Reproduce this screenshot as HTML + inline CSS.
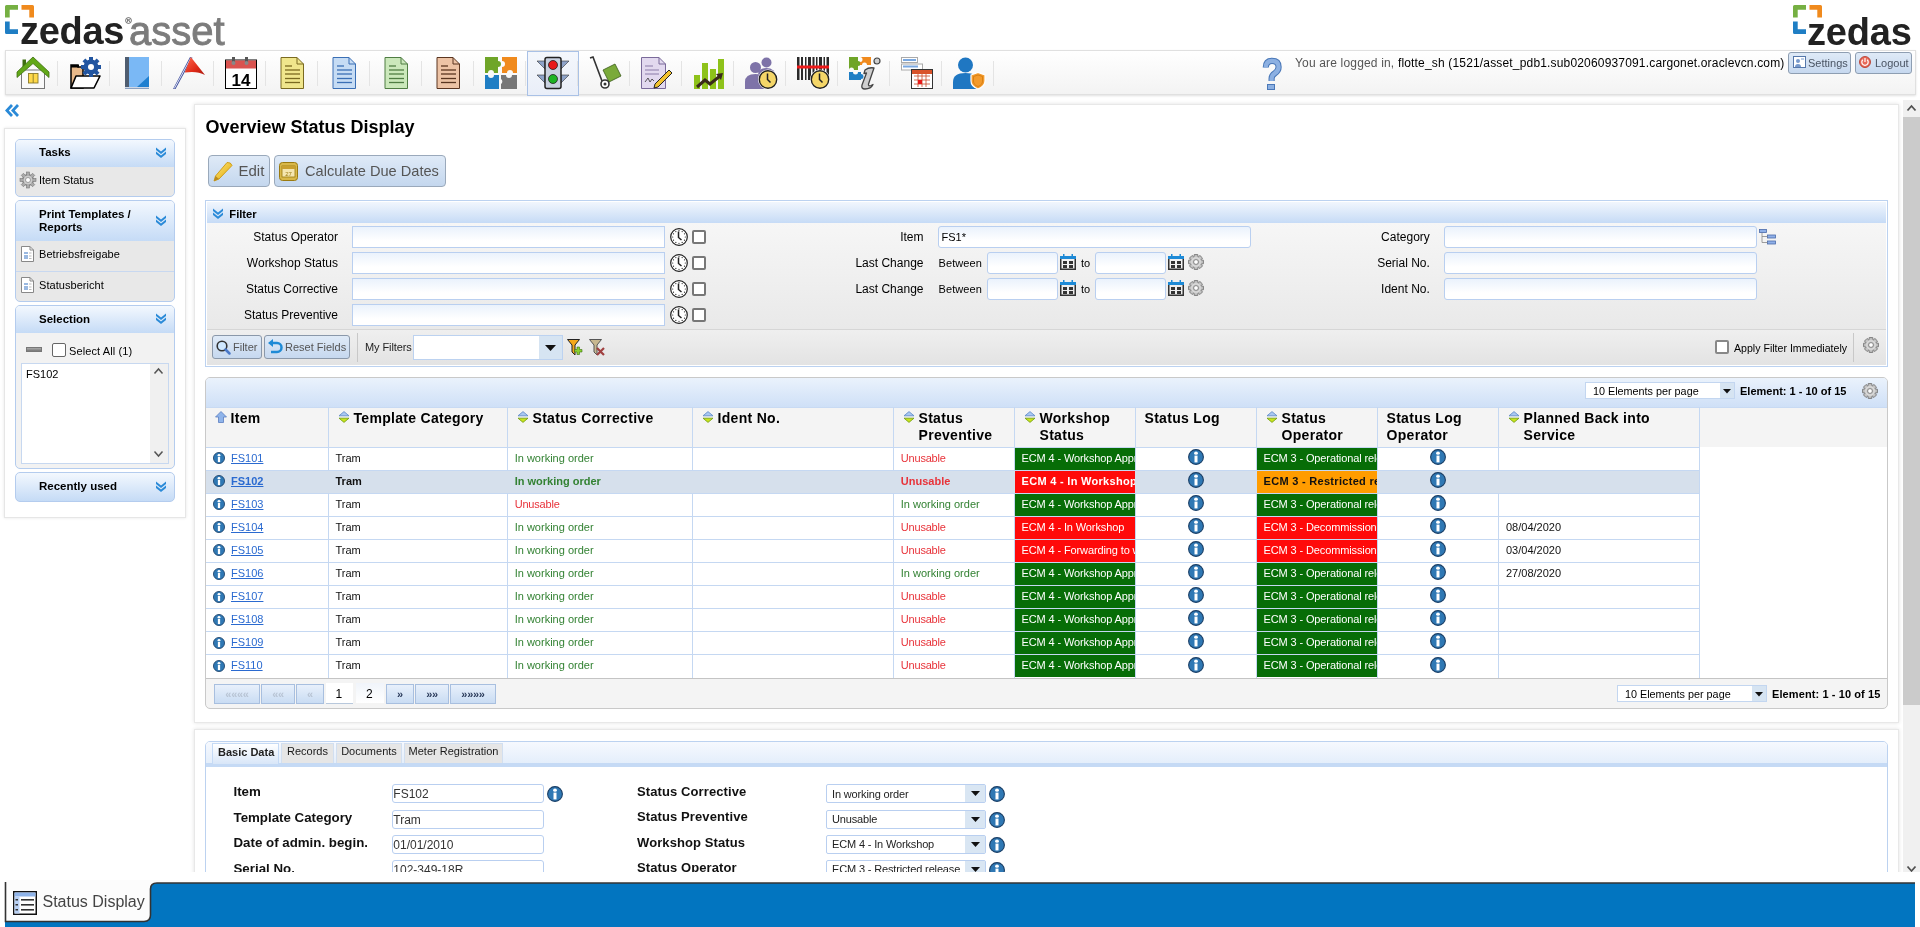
<!DOCTYPE html><html><head><meta charset="utf-8"><style>
*{box-sizing:border-box;margin:0;padding:0}
html,body{width:1920px;height:927px;overflow:hidden;background:#fff;font-family:"Liberation Sans",sans-serif;color:#000}
.a{position:absolute}
.t{position:absolute;white-space:nowrap;line-height:1}
svg{position:absolute;overflow:visible}
</style></head><body><div id="root" style="position:absolute;left:0;top:0;width:1920px;height:927px;overflow:hidden;background:#fff;will-change:transform">
<svg style="left:5px;top:5px" width="30" height="30" viewBox="0 0 30 30">
<path d="M1.5 0H13V4.7H4.7V12.5H0V1.5Q0 0 1.5 0Z" fill="#76b043"/>
<path d="M16.5 0H27.5Q29 0 29 1.5V12.5H24.3V4.7H16.5Z" fill="#f08a1d"/>
<path d="M0 16.5H4.7V24.3H13V29H1.5Q0 29 0 27.5Z" fill="#1f7ec4"/>
</svg>
<div class="t" style="left:20px;top:12.33px;font-size:38px;font-weight:bold;color:#222;letter-spacing:-0.3px">zedas</div>
<div class="t" style="left:129px;top:10.64px;font-size:40px;font-weight:normal;color:#7c7c7c;-webkit-text-stroke:0.9px #7c7c7c">asset</div>
<svg style="left:125px;top:17px" width="7" height="7" viewBox="0 0 7 7"><circle cx="3.5" cy="3.5" r="2.9" fill="none" stroke="#444" stroke-width="0.8"/><text x="3.5" y="5" text-anchor="middle" font-size="4.2" font-weight="bold" fill="#444" font-family="Liberation Sans">R</text></svg>
<svg style="left:1793px;top:5px" width="30" height="30" viewBox="0 0 30 30">
<path d="M1.5 0H13V4.7H4.7V12.5H0V1.5Q0 0 1.5 0Z" fill="#76b043"/>
<path d="M16.5 0H27.5Q29 0 29 1.5V12.5H24.3V4.7H16.5Z" fill="#f08a1d"/>
<path d="M0 16.5H4.7V24.3H13V29H1.5Q0 29 0 27.5Z" fill="#1f7ec4"/>
</svg>
<div class="t" style="left:1807px;top:12.83px;font-size:38px;font-weight:bold;color:#222;letter-spacing:-0.2px">zedas</div>
<div class="a" style="left:5px;top:50px;width:1911px;height:45px;background:linear-gradient(#ffffff,#f3f3f3);border:1px solid #e0e0e0;box-shadow:0 1px 2px rgba(0,0,0,0.12)"></div>
<div class="a" style="left:527px;top:51px;width:52px;height:45px;background:linear-gradient(#f4f7fc,#e9eef8);border:1px solid #a9c1e6"></div>
<div class="a" style="left:57px;top:61px;width:1px;height:25px;background:#e4e4e4"></div>
<div class="a" style="left:109px;top:61px;width:1px;height:25px;background:#e4e4e4"></div>
<div class="a" style="left:161px;top:61px;width:1px;height:25px;background:#e4e4e4"></div>
<div class="a" style="left:213px;top:61px;width:1px;height:25px;background:#e4e4e4"></div>
<div class="a" style="left:265px;top:61px;width:1px;height:25px;background:#e4e4e4"></div>
<div class="a" style="left:317px;top:61px;width:1px;height:25px;background:#e4e4e4"></div>
<div class="a" style="left:369px;top:61px;width:1px;height:25px;background:#e4e4e4"></div>
<div class="a" style="left:421px;top:61px;width:1px;height:25px;background:#e4e4e4"></div>
<div class="a" style="left:473px;top:61px;width:1px;height:25px;background:#e4e4e4"></div>
<div class="a" style="left:525px;top:61px;width:1px;height:25px;background:#e4e4e4"></div>
<div class="a" style="left:577px;top:61px;width:1px;height:25px;background:#e4e4e4"></div>
<div class="a" style="left:629px;top:61px;width:1px;height:25px;background:#e4e4e4"></div>
<div class="a" style="left:681px;top:61px;width:1px;height:25px;background:#e4e4e4"></div>
<div class="a" style="left:733px;top:61px;width:1px;height:25px;background:#e4e4e4"></div>
<div class="a" style="left:785px;top:61px;width:1px;height:25px;background:#e4e4e4"></div>
<div class="a" style="left:837px;top:61px;width:1px;height:25px;background:#e4e4e4"></div>
<div class="a" style="left:889px;top:61px;width:1px;height:25px;background:#e4e4e4"></div>
<div class="a" style="left:941px;top:61px;width:1px;height:25px;background:#e4e4e4"></div>
<div class="a" style="left:993px;top:61px;width:1px;height:25px;background:#e4e4e4"></div>
<svg style="left:17px;top:57px" width="32" height="32" viewBox="0 0 32 32">
<rect x="4.5" y="13" width="23" height="18.5" fill="#fafafa" stroke="#777" stroke-width="1"/>
<rect x="11.5" y="16.5" width="9.5" height="9.5" fill="#ffd94a" stroke="#8a7a2a" stroke-width="0.9"/>
<line x1="16.2" y1="16.5" x2="16.2" y2="26" stroke="#8a7a2a" stroke-width="0.9"/>
<rect x="5.5" y="2.5" width="3.5" height="8" fill="#3f6f10"/>
<path d="M0 15 L16 0 L32 15 V20.5 L16 6.5 L0 20.5Z" fill="#62a818" stroke="#3f7010" stroke-width="0.8"/>
</svg>
<svg style="left:69px;top:57px" width="32" height="32" viewBox="0 0 32 32">
<path d="M2 8 H9 V10 H14 V31 H2Z" fill="#e8b98a" stroke="#000" stroke-width="1.5"/>
<rect x="2" y="8" width="8" height="2.5" fill="#000"/>
<path d="M2 31 L7 19 H31 L25 31Z" fill="#fff" stroke="#000" stroke-width="1.6" stroke-linejoin="round"/>
<g transform="translate(22,10)"><circle r="7.5" fill="#2255a0"/>
<g fill="#2255a0"><rect x="-2" y="-10" width="4" height="20"/><rect x="-10" y="-2" width="20" height="4"/><rect x="-2" y="-10" width="4" height="20" transform="rotate(45)"/><rect x="-2" y="-10" width="4" height="20" transform="rotate(-45)"/></g>
<circle r="3" fill="#fff"/></g>
</svg>
<svg style="left:121px;top:57px" width="32" height="32" viewBox="0 0 32 32">
<rect x="4" y="0" width="24" height="32" fill="#7ab8f5"/>
<rect x="4" y="0" width="4" height="31" fill="#4f5d70"/>
<path d="M28 19 V30 H16Z" fill="#1f7fd0"/>
<rect x="4" y="30" width="24" height="2" fill="#cfd8e6"/>
<rect x="4" y="31" width="24" height="1" fill="#8aa0c0"/>
</svg>
<svg style="left:173px;top:57px" width="32" height="32" viewBox="0 0 32 32">
<defs><linearGradient id="fg" x1="0" y1="0" x2="1" y2="1"><stop offset="0" stop-color="#ff6a50"/><stop offset="0.6" stop-color="#e02a18"/><stop offset="1" stop-color="#a81a10"/></linearGradient></defs>
<path d="M0 32 L17 0 L19.5 0.8 L2.5 32Z" fill="#3b4a9a"/>
<path d="M1.3 31.5 L18 0.8" stroke="#f0f4ff" stroke-width="0.9"/>
<path d="M17.8 0 L32 18 Q24 13.5 11.7 15.5Z" fill="url(#fg)"/>
</svg>
<svg style="left:225px;top:57px" width="32" height="32" viewBox="0 0 32 32">
<rect x="0.5" y="3" width="31" height="28.5" fill="#fff" stroke="#000" stroke-width="1"/>
<rect x="1" y="3.5" width="30" height="8" fill="#d9534f"/>
<rect x="7" y="0" width="3" height="6" fill="#555"/><circle cx="8.5" cy="6" r="2" fill="#888"/>
<rect x="20" y="0" width="3" height="6" fill="#555"/><circle cx="21.5" cy="6" r="2" fill="#888"/>
<text x="16" y="29" text-anchor="middle" font-family="Liberation Sans" font-weight="bold" font-size="17" fill="#000">14</text>
</svg>
<svg style="left:277px;top:57px" width="32" height="32" viewBox="0 0 32 32"><g transform="translate(3,0)">
<path d="M1 0.5 H17 L23.5 7 V31.5 H1Z" fill="#f0e68c" stroke="#7a6a20" stroke-width="1"/>
<path d="M17 0.5 V7 H23.5" fill="none" stroke="#7a6a20" stroke-width="1"/>
<g stroke="#7a6a20" stroke-width="1.3"><line x1="5" y1="9" x2="12" y2="9"/><line x1="5" y1="13" x2="20" y2="13"/><line x1="5" y1="17" x2="20" y2="17"/><line x1="5" y1="21.5" x2="20" y2="21.5"/><line x1="5" y1="25.5" x2="20" y2="25.5"/></g></g>
</svg>
<svg style="left:329px;top:57px" width="32" height="32" viewBox="0 0 32 32"><g transform="translate(3,0)">
<path d="M1 0.5 H17 L23.5 7 V31.5 H1Z" fill="#c6dcf4" stroke="#3a6fb5" stroke-width="1"/>
<path d="M17 0.5 V7 H23.5" fill="none" stroke="#3a6fb5" stroke-width="1"/>
<g stroke="#3a6fb5" stroke-width="1.3"><line x1="5" y1="9" x2="12" y2="9"/><line x1="5" y1="13" x2="20" y2="13"/><line x1="5" y1="17" x2="20" y2="17"/><line x1="5" y1="21.5" x2="20" y2="21.5"/><line x1="5" y1="25.5" x2="20" y2="25.5"/></g></g>
</svg>
<svg style="left:381px;top:57px" width="32" height="32" viewBox="0 0 32 32"><g transform="translate(3,0)">
<path d="M1 0.5 H17 L23.5 7 V31.5 H1Z" fill="#cbe8bb" stroke="#4f7d43" stroke-width="1"/>
<path d="M17 0.5 V7 H23.5" fill="none" stroke="#4f7d43" stroke-width="1"/>
<g stroke="#4f7d43" stroke-width="1.3"><line x1="5" y1="9" x2="12" y2="9"/><line x1="5" y1="13" x2="20" y2="13"/><line x1="5" y1="17" x2="20" y2="17"/><line x1="5" y1="21.5" x2="20" y2="21.5"/><line x1="5" y1="25.5" x2="20" y2="25.5"/></g></g>
</svg>
<svg style="left:433px;top:57px" width="32" height="32" viewBox="0 0 32 32"><g transform="translate(3,0)">
<path d="M1 0.5 H17 L23.5 7 V31.5 H1Z" fill="#edc3a5" stroke="#5a3520" stroke-width="1"/>
<path d="M17 0.5 V7 H23.5" fill="none" stroke="#5a3520" stroke-width="1"/>
<g stroke="#5a3520" stroke-width="1.3"><line x1="5" y1="9" x2="12" y2="9"/><line x1="5" y1="13" x2="20" y2="13"/><line x1="5" y1="17" x2="20" y2="17"/><line x1="5" y1="21.5" x2="20" y2="21.5"/><line x1="5" y1="25.5" x2="20" y2="25.5"/></g></g>
</svg>
<svg style="left:485px;top:57px" width="32" height="32" viewBox="0 0 32 32">
<path d="M0 0 H13 V4 A3 3 0 0 1 13 10 V16 H9 A3 3 0 0 0 3 16 H0Z" fill="#6fa528"/>
<path d="M17 0 H32 V16 H28 A3 3 0 0 0 22 16 H17 V10 A3 3 0 0 0 17 4Z" fill="#f08a1d"/>
<path d="M0 18 H3 A3 3 0 0 0 9 18 H14 V32 H0Z" fill="#1f7ec4"/>
<path d="M16 18 H21 A3 3 0 0 0 27 18 H32 V32 H16 V27 A3 3 0 0 0 16 22Z" fill="#777"/>
</svg>
<svg style="left:537px;top:57px" width="32" height="32" viewBox="0 0 32 32">
<path d="M0 4 H8 V12Z" fill="#8ea3c9" stroke="#333" stroke-width="0.6"/>
<path d="M32 4 H24 V12Z" fill="#8ea3c9" stroke="#333" stroke-width="0.6"/>
<path d="M0 18 H8 V26Z" fill="#8ea3c9" stroke="#333" stroke-width="0.6"/>
<path d="M32 18 H24 V26Z" fill="#8ea3c9" stroke="#333" stroke-width="0.6"/>
<rect x="8" y="0.5" width="16" height="31" rx="2" fill="#c9d1e0" stroke="#222" stroke-width="1.5"/>
<circle cx="16" cy="8" r="4.5" fill="#e8191a" stroke="#222" stroke-width="0.8"/>
<circle cx="16" cy="22" r="4.5" fill="#1db323" stroke="#222" stroke-width="0.8"/>
</svg>
<svg style="left:589px;top:57px" width="32" height="32" viewBox="0 0 32 32">
<path d="M1 1 L4 0 L13 24" fill="none" stroke="#333" stroke-width="1.6"/>
<path d="M14 13 L26 7 L32 19 L20 25Z" fill="#7aaa3a" stroke="#3a5a1a" stroke-width="0.8"/>
<circle cx="16" cy="27" r="4" fill="#fff" stroke="#333" stroke-width="1.6"/>
<circle cx="16" cy="27" r="1.5" fill="#333"/>
</svg>
<svg style="left:641px;top:57px" width="32" height="32" viewBox="0 0 32 32">
<path d="M0.5 0.5 H18 L24.5 7 V31.5 H0.5Z" fill="#e2d9ef" stroke="#7a6a9a" stroke-width="1"/>
<path d="M18 0.5 V7 H24.5" fill="none" stroke="#7a6a9a" stroke-width="1"/>
<g stroke="#8a7aa8" stroke-width="1"><line x1="4" y1="9" x2="12" y2="9"/><line x1="4" y1="13" x2="18" y2="13"/><line x1="4" y1="17" x2="18" y2="17"/></g>
<path d="M4 25 L7 21 L9 25 L11 22 L13 24" fill="none" stroke="#333" stroke-width="0.8"/>
<path d="M14 27 L28 13 L31 16 L17 30 L13 31Z" fill="#f2c230" stroke="#222" stroke-width="1"/>
</svg>
<svg style="left:693px;top:57px" width="32" height="32" viewBox="0 0 32 32">
<rect x="1" y="18" width="6" height="14" fill="#8ec21a"/><rect x="9" y="6" width="6" height="26" fill="#8ec21a"/>
<rect x="17" y="12" width="6" height="20" fill="#8ec21a"/><rect x="25" y="2" width="6" height="30" fill="#8ec21a"/>
<path d="M4 30 L12 23 L17 27 L27 19" fill="none" stroke="#3a2a1a" stroke-width="3"/>
<path d="M23 17 L30 16 L28 23Z" fill="#3a2a1a"/>
</svg>
<svg style="left:745px;top:57px" width="32" height="32" viewBox="0 0 32 32">
<circle cx="10.5" cy="10.5" r="5.5" fill="#7e73a8"/><path d="M0 32 V25 Q0 17 10.5 17 Q21 17 21 25 V32Z" fill="#7e73a8"/>
<circle cx="21.5" cy="5.5" r="5" fill="#7e73a8"/><path d="M13 16 Q15 11 21.5 11 Q30 11 31 20 H15Z" fill="#7e73a8"/>
<circle cx="23" cy="22.5" r="10" fill="#fff"/>
<circle cx="23" cy="22.5" r="8.7" fill="#f4d668" stroke="#222" stroke-width="1.4"/>
<path d="M22.5 16.5 V22.5 L25.5 25.5" fill="none" stroke="#222" stroke-width="1.5"/>
</svg>
<svg style="left:797px;top:57px" width="32" height="32" viewBox="0 0 32 32">
<g fill="#2a2a2a"><rect x="0" y="0" width="2.5" height="23"/><rect x="4" y="0" width="2" height="23"/><rect x="8" y="0" width="1.5" height="23"/><rect x="11" y="0" width="3" height="23"/><rect x="15.5" y="0" width="2" height="23"/><rect x="19" y="0" width="1.5" height="23"/><rect x="22" y="0" width="3" height="23"/><rect x="26.5" y="0" width="1.5" height="23"/><rect x="29.5" y="0" width="2.5" height="23"/></g>
<rect x="0" y="8.5" width="32" height="3" fill="#ee1a1a"/>
<circle cx="23" cy="22.5" r="10" fill="#fff"/>
<circle cx="23" cy="22.5" r="8.7" fill="#f4d668" stroke="#222" stroke-width="1.4"/>
<path d="M22.5 16.5 V22.5 L25.5 25.5" fill="none" stroke="#222" stroke-width="1.5"/>
</svg>
<svg style="left:849px;top:57px" width="32" height="32" viewBox="0 0 32 32">
<path d="M0 0 H9 V4 A2.5 2.5 0 0 1 9 9 V13 H5 A2.5 2.5 0 0 0 0 13Z" fill="#6fa528"/>
<path d="M11 0 H22 V8 H18 A2.5 2.5 0 0 0 13 8 H11 V5 A2.5 2.5 0 0 0 11 0Z" fill="#f08a1d"/>
<path d="M0 15 H4 A2.5 2.5 0 0 0 9 15 H12 V17 A2.5 2.5 0 0 1 12 22 V23 H0Z" fill="#1f7ec4"/>
<circle cx="28" cy="4" r="3" fill="#d0d0d0" stroke="#444" stroke-width="1.2"/>
<path d="M16 13 Q20 10 25 11 L19.5 27 Q19 29.5 22 28.5 L24 27.5 Q22 32 16 32 Q12 32 13 28 L17.5 16 L15 16.5Z" fill="#cfcfcf" stroke="#444" stroke-width="1.3" stroke-linejoin="round"/>
</svg>
<svg style="left:901px;top:57px" width="32" height="32" viewBox="0 0 32 32">
<rect x="0.5" y="0.5" width="16" height="5" fill="#fff" stroke="#aaa" stroke-width="1"/>
<rect x="2" y="2" width="13" height="2" fill="#7aa8e0"/>
<rect x="0.5" y="7" width="21" height="6" fill="#fff" stroke="#aaa" stroke-width="1"/>
<rect x="2" y="8.5" width="15" height="2" fill="#7aa8e0"/>
<rect x="10.5" y="12.5" width="21" height="19" fill="#fff" stroke="#333" stroke-width="1"/>
<rect x="11" y="13" width="20" height="4" fill="#d9532a"/>
<g stroke="#c94a2a" stroke-width="0.8" fill="none"><path d="M13 19 H29 M13 23 H29 M13 27 H29 M17 17 V30 M21 17 V30 M25 17 V30"/></g>
<rect x="17" y="23" width="4" height="4" fill="#e8191a"/>
</svg>
<svg style="left:953px;top:57px" width="32" height="32" viewBox="0 0 32 32">
<circle cx="12.5" cy="8" r="7.5" fill="#1f77c2"/>
<path d="M0 32 V25 Q0 16 12.5 16 Q25 16 25 25 V32Z" fill="#1f77c2"/>
<path d="M18 18 L25 15.5 L32 18 V24 Q32 29.5 25 32 Q18 29.5 18 24Z" fill="#f39a2b" stroke="#fff" stroke-width="1.2"/>
<path d="M20.5 19.5 L25 18 L29.5 19.5 V24 Q29.5 28 25 29.5 Q20.5 28 20.5 24Z" fill="none" stroke="#d07a10" stroke-width="0.8"/>
</svg>
<svg style="left:1262px;top:58px" width="20" height="32" viewBox="0 0 20 32"><path d="M3.8 9.5 Q3.8 2.8 10 2.8 Q16.6 2.8 16.6 9 Q16.6 12.8 12.8 15.3 Q9.6 17.4 9.6 20.5 V23" fill="none" stroke="#4a78b8" stroke-width="6.2"/><path d="M3.8 9.5 Q3.8 2.8 10 2.8 Q16.6 2.8 16.6 9 Q16.6 12.8 12.8 15.3 Q9.6 17.4 9.6 20.5 V23" fill="none" stroke="#8cb0e2" stroke-width="4.2"/><rect x="5.5" y="26.5" width="7" height="5" fill="#8cb0e2" stroke="#4a78b8" stroke-width="1"/></svg>
<div class="t" style="left:1295px;top:56.6px;font-size:12px;letter-spacing:0.17px;color:#555">You are logged in, <span style="color:#000">flotte_sh (1521/asset_pdb1.sub02060937091.cargonet.oraclevcn.com)</span></div>
<div class="a" style="left:1788px;top:52px;width:63px;height:22px;background:linear-gradient(#dfeaf7,#c6d8ef);border:1px solid #8e9eb2;border-radius:3px"></div>

<div class="t" style="left:1808px;top:58.19px;font-size:11px;font-weight:normal;color:#4a5463;">Settings</div>
<svg style="left:1793px;top:56px" width="13" height="12" viewBox="0 0 13 12"><rect x="0.5" y="0.5" width="12" height="11" fill="#fff" stroke="#5577aa"/><circle cx="5" cy="5" r="2" fill="#7799cc"/><path d="M2 11 A3 3 0 0 1 8 11Z" fill="#7799cc"/><line x1="8" y1="3" x2="11" y2="3" stroke="#7799cc"/></svg>
<div class="a" style="left:1855px;top:52px;width:57px;height:22px;background:linear-gradient(#dfeaf7,#c6d8ef);border:1px solid #8e9eb2;border-radius:3px"></div>

<div class="t" style="left:1875px;top:58.19px;font-size:11px;font-weight:normal;color:#4a5463;">Logout</div>
<svg style="left:1859px;top:56px" width="12" height="12" viewBox="0 0 12 12"><circle cx="6" cy="6" r="5.5" fill="#e86a5a" stroke="#b03020" stroke-width="0.8"/><path d="M3.8 3.8 A3.2 3.2 0 1 0 8.2 3.8" fill="none" stroke="#fff" stroke-width="1.2"/><line x1="6" y1="2" x2="6" y2="6" stroke="#fff" stroke-width="1.2"/></svg>
<svg style="left:5px;top:104px" width="14" height="13" viewBox="0 0 14 13"><path d="M6 0 L0 6.5 L6 13 L8 11 L3.8 6.5 L8 2Z M12 0 L6 6.5 L12 13 L14 11 L9.8 6.5 L14 2Z" fill="#2a8ad8"/></svg>
<div class="a" style="left:4px;top:128px;width:182px;height:390px;background:#fff;border:1px solid #e6e6e6;box-shadow:0 0 3px rgba(0,0,0,0.10)"></div>
<div class="a" style="left:15px;top:139px;width:160px;height:58px;background:#e8e8e8;border:1px solid #b4ccee;border-radius:5px;overflow:hidden"></div>
<div class="a" style="left:16px;top:140px;width:158px;height:27px;background:linear-gradient(#f3f8fe,#c5dbf6);border-radius:4px 4px 0 0"></div>
<div class="t" style="left:39px;top:147.27px;font-size:11.5px;font-weight:bold;color:#000;">Tasks</div>
<svg style="left:156px;top:147px" width="10" height="10" viewBox="0 0 10 10"><path d="M0 0.5 L5 4.5 L10 0.5 V3 L5 7 L0 3Z M0 4.5 L5 8.5 L10 4.5 V7 L5 11 L0 7Z" fill="#2a8ad8"/></svg>
<svg style="left:20px;top:172px" width="16" height="16" viewBox="0 0 16 16"><g transform="translate(8,8)"><circle r="5.5" fill="#bbb" stroke="#777" stroke-width="1"/><g fill="#aaa" stroke="#777" stroke-width="0.6"><rect x="-1.5" y="-8" width="3" height="4"/><rect x="-1.5" y="4" width="3" height="4"/><rect x="-8" y="-1.5" width="4" height="3"/><rect x="4" y="-1.5" width="4" height="3"/><rect x="-1.5" y="-8" width="3" height="4" transform="rotate(45)"/><rect x="-1.5" y="4" width="3" height="4" transform="rotate(45)"/><rect x="-1.5" y="-8" width="3" height="4" transform="rotate(-45)"/><rect x="-1.5" y="4" width="3" height="4" transform="rotate(-45)"/></g><circle r="4.5" fill="#ccc"/><circle r="2.5" fill="#fff" stroke="#888" stroke-width="0.8"/></g></svg>
<div class="t" style="left:39px;top:174.69px;font-size:11px;font-weight:normal;color:#000;letter-spacing:-0.1px">Item Status</div>
<div class="a" style="left:15px;top:200px;width:160px;height:102px;background:#e8e8e8;border:1px solid #b4ccee;border-radius:5px;overflow:hidden"></div>
<div class="a" style="left:16px;top:201px;width:158px;height:40px;background:linear-gradient(#f3f8fe,#c5dbf6);border-radius:4px 4px 0 0"></div>
<div class="t" style="left:39px;top:208.77px;font-size:11.5px;font-weight:bold;color:#000;">Print Templates /</div>
<div class="t" style="left:39px;top:222.27px;font-size:11.5px;font-weight:bold;color:#000;">Reports</div>
<svg style="left:156px;top:215px" width="10" height="10" viewBox="0 0 10 10"><path d="M0 0.5 L5 4.5 L10 0.5 V3 L5 7 L0 3Z M0 4.5 L5 8.5 L10 4.5 V7 L5 11 L0 7Z" fill="#2a8ad8"/></svg>
<div class="a" style="left:16px;top:271px;width:158px;height:1px;background:#c8d8f0"></div>
<svg style="left:21px;top:246px" width="13" height="16" viewBox="0 0 13 16"><path d="M0.5 0.5 H9 L12.5 4 V15.5 H0.5Z" fill="#fff" stroke="#888" stroke-width="1"/><path d="M9 0.5 V4 H12.5" fill="none" stroke="#888"/><g fill="#9ab8e0"><rect x="3" y="6" width="4" height="2"/><rect x="3" y="9" width="4" height="4"/></g><g stroke="#aaa" stroke-width="0.8"><line x1="8" y1="7" x2="10.5" y2="7"/><line x1="8" y1="10" x2="10.5" y2="10"/><line x1="8" y1="12.5" x2="10.5" y2="12.5"/></g></svg>
<div class="t" style="left:39px;top:248.69px;font-size:11px;font-weight:normal;color:#000;letter-spacing:0.05px">Betriebsfreigabe</div>
<svg style="left:21px;top:277px" width="13" height="16" viewBox="0 0 13 16"><path d="M0.5 0.5 H9 L12.5 4 V15.5 H0.5Z" fill="#fff" stroke="#888" stroke-width="1"/><path d="M9 0.5 V4 H12.5" fill="none" stroke="#888"/><g fill="#9ab8e0"><rect x="3" y="6" width="4" height="2"/><rect x="3" y="9" width="4" height="4"/></g><g stroke="#aaa" stroke-width="0.8"><line x1="8" y1="7" x2="10.5" y2="7"/><line x1="8" y1="10" x2="10.5" y2="10"/><line x1="8" y1="12.5" x2="10.5" y2="12.5"/></g></svg>
<div class="t" style="left:39px;top:279.69px;font-size:11px;font-weight:normal;color:#000;letter-spacing:0.05px">Statusbericht</div>
<div class="a" style="left:15px;top:305px;width:160px;height:164px;background:#f2f2f2;border:1px solid #b4ccee;border-radius:5px;overflow:hidden"></div>
<div class="a" style="left:16px;top:306px;width:158px;height:27px;background:linear-gradient(#f3f8fe,#c5dbf6);border-radius:4px 4px 0 0"></div>
<div class="t" style="left:39px;top:314.27px;font-size:11.5px;font-weight:bold;color:#000;">Selection</div>
<svg style="left:156px;top:313px" width="10" height="10" viewBox="0 0 10 10"><path d="M0 0.5 L5 4.5 L10 0.5 V3 L5 7 L0 3Z M0 4.5 L5 8.5 L10 4.5 V7 L5 11 L0 7Z" fill="#2a8ad8"/></svg>
<div class="a" style="left:26px;top:347px;width:16px;height:5px;background:linear-gradient(#aaa,#777);border:1px solid #777"></div>
<div class="a" style="left:52px;top:343px;width:14px;height:14px;background:#fff;border:1px solid #666;border-radius:2px"></div>
<div class="t" style="left:69px;top:346.19px;font-size:11px;font-weight:normal;color:#000;letter-spacing:0.1px">Select All (1)</div>
<div class="a" style="left:21px;top:363px;width:148px;height:101px;background:#fff;border:1px solid #c7d8f0"></div>
<div class="t" style="left:26px;top:368.69px;font-size:11px;font-weight:normal;color:#000;">FS102</div>
<div class="a" style="left:150px;top:364px;width:18px;height:99px;background:#f0f0f0"></div>
<svg style="left:154px;top:368px" width="9" height="6" viewBox="0 0 9 6"><path d="M0.5 5.5 L4.5 1 L8.5 5.5" fill="none" stroke="#555" stroke-width="1.5"/></svg>
<svg style="left:154px;top:451px" width="9" height="6" viewBox="0 0 9 6"><path d="M0.5 0.5 L4.5 5 L8.5 0.5" fill="none" stroke="#555" stroke-width="1.5"/></svg>
<div class="a" style="left:15px;top:472px;width:160px;height:30px;border:1px solid #b4ccee;border-radius:5px;background:linear-gradient(#f3f8fe,#c5dbf6);"></div>
<div class="t" style="left:39px;top:481.27px;font-size:11.5px;font-weight:bold;color:#000;">Recently used</div>
<svg style="left:156px;top:481px" width="10" height="10" viewBox="0 0 10 10"><path d="M0 0.5 L5 4.5 L10 0.5 V3 L5 7 L0 3Z M0 4.5 L5 8.5 L10 4.5 V7 L5 11 L0 7Z" fill="#2a8ad8"/></svg>
<div class="a" style="left:194px;top:104px;width:1705px;height:619px;background:#fff;border:1px solid #e8e8e8;box-shadow:0 0 4px rgba(0,0,0,0.12)"></div>
<div class="t" style="left:205.5px;top:117.56px;font-size:18px;font-weight:bold;color:#000;">Overview Status Display</div>
<div class="a" style="left:208px;top:155px;width:62px;height:32px;background:linear-gradient(#dfeaf7,#c4d7ee);border:1px solid #9aa9bb;border-radius:4px;"></div>
<svg style="left:213px;top:162px" width="20" height="20" viewBox="0 0 20 20"><defs><linearGradient id="pg" x1="0" y1="0" x2="1" y2="1"><stop offset="0" stop-color="#ffe680"/><stop offset="1" stop-color="#e0a800"/></linearGradient></defs><path d="M14 0.5 Q18 0 19 3.5 L6 17 L1 19 L2.5 14Z" fill="url(#pg)" stroke="#c89000" stroke-width="0.8"/><path d="M1 19 L2.5 14 L6 17Z" fill="#b88a20"/></svg>
<div class="t" style="left:238.5px;top:163.30px;font-size:15px;font-weight:normal;color:#555;">Edit</div>
<div class="a" style="left:274px;top:155px;width:172px;height:32px;background:linear-gradient(#dfeaf7,#c4d7ee);border:1px solid #9aa9bb;border-radius:4px;"></div>
<svg style="left:279px;top:162px" width="19" height="19" viewBox="0 0 19 19"><rect x="0.5" y="0.5" width="18" height="18" rx="3" fill="#d9b84a" stroke="#9a7a10"/><rect x="3" y="4" width="13" height="11" fill="#f5e6b0" stroke="#9a7a10" stroke-width="0.8"/><rect x="3" y="4" width="13" height="3" fill="#c9a030"/><text x="9.5" y="14" text-anchor="middle" font-size="6" font-family="Liberation Sans" fill="#9a7a10">27</text></svg>
<div class="t" style="left:305px;top:163.64px;font-size:14.6px;font-weight:normal;color:#555;">Calculate Due Dates</div>
<div class="a" style="left:205px;top:200px;width:1683px;height:167px;background:#fff;border:1px solid #bcd2f0"></div>
<div class="a" style="left:207px;top:202px;width:1679px;height:21px;background:linear-gradient(#f1f6fd,#c6dbf6)"></div>
<svg style="left:213px;top:208px" width="10" height="11" viewBox="0 0 10 11"><path d="M0 0.5 L5 4.5 L10 0.5 V3 L5 7 L0 3Z M0 4.5 L5 8.5 L10 4.5 V7 L5 11 L0 7Z" fill="#2a8ad8"/></svg>
<div class="t" style="left:229.3px;top:208.52px;font-size:11.2px;font-weight:bold;color:#000;">Filter</div>
<div class="a" style="left:207px;top:223px;width:1679px;height:106px;background:linear-gradient(#f6f6f6,#e9e9e9)"></div>
<div class="a" style="left:207px;top:329px;width:1679px;height:36px;background:linear-gradient(#efefef,#e3e3e3);border-top:1px solid #d6d6d6"></div>
<div class="t" style="right:1582px;top:231.44px;font-size:12px;font-weight:normal;color:#000;text-align:right;">Status Operator</div>
<div class="a" style="left:352px;top:226px;width:313px;height:22px;background:linear-gradient(#eaf2fc,#ffffff 70%);border:1px solid #b9cff0;"></div>
<svg style="left:670px;top:227.5px" width="18" height="18" viewBox="0 0 18 18"><circle cx="9" cy="9" r="8.3" fill="#fff" stroke="#222" stroke-width="1.2"/><circle cx="15.30" cy="9.00" r="0.6" fill="#222"/><circle cx="14.46" cy="12.15" r="0.6" fill="#222"/><circle cx="12.15" cy="14.46" r="0.6" fill="#222"/><circle cx="9.00" cy="15.30" r="0.6" fill="#222"/><circle cx="5.85" cy="14.46" r="0.6" fill="#222"/><circle cx="3.54" cy="12.15" r="0.6" fill="#222"/><circle cx="2.70" cy="9.00" r="0.6" fill="#222"/><circle cx="3.54" cy="5.85" r="0.6" fill="#222"/><circle cx="5.85" cy="3.54" r="0.6" fill="#222"/><circle cx="9.00" cy="2.70" r="0.6" fill="#222"/><circle cx="12.15" cy="3.54" r="0.6" fill="#222"/><circle cx="14.46" cy="5.85" r="0.6" fill="#222"/><path d="M8.5 3.5 V9.5 L11.5 12" fill="none" stroke="#222" stroke-width="1.5"/></svg>
<div class="a" style="left:692px;top:230px;width:14px;height:14px;background:#fff;border:2px solid #777;border-radius:2px"></div>
<div class="t" style="right:1582px;top:257.44px;font-size:12px;font-weight:normal;color:#000;text-align:right;">Workshop Status</div>
<div class="a" style="left:352px;top:252px;width:313px;height:22px;background:linear-gradient(#eaf2fc,#ffffff 70%);border:1px solid #b9cff0;"></div>
<svg style="left:670px;top:253.5px" width="18" height="18" viewBox="0 0 18 18"><circle cx="9" cy="9" r="8.3" fill="#fff" stroke="#222" stroke-width="1.2"/><circle cx="15.30" cy="9.00" r="0.6" fill="#222"/><circle cx="14.46" cy="12.15" r="0.6" fill="#222"/><circle cx="12.15" cy="14.46" r="0.6" fill="#222"/><circle cx="9.00" cy="15.30" r="0.6" fill="#222"/><circle cx="5.85" cy="14.46" r="0.6" fill="#222"/><circle cx="3.54" cy="12.15" r="0.6" fill="#222"/><circle cx="2.70" cy="9.00" r="0.6" fill="#222"/><circle cx="3.54" cy="5.85" r="0.6" fill="#222"/><circle cx="5.85" cy="3.54" r="0.6" fill="#222"/><circle cx="9.00" cy="2.70" r="0.6" fill="#222"/><circle cx="12.15" cy="3.54" r="0.6" fill="#222"/><circle cx="14.46" cy="5.85" r="0.6" fill="#222"/><path d="M8.5 3.5 V9.5 L11.5 12" fill="none" stroke="#222" stroke-width="1.5"/></svg>
<div class="a" style="left:692px;top:256px;width:14px;height:14px;background:#fff;border:2px solid #777;border-radius:2px"></div>
<div class="t" style="right:1582px;top:283.44px;font-size:12px;font-weight:normal;color:#000;text-align:right;">Status Corrective</div>
<div class="a" style="left:352px;top:278px;width:313px;height:22px;background:linear-gradient(#eaf2fc,#ffffff 70%);border:1px solid #b9cff0;"></div>
<svg style="left:670px;top:279.5px" width="18" height="18" viewBox="0 0 18 18"><circle cx="9" cy="9" r="8.3" fill="#fff" stroke="#222" stroke-width="1.2"/><circle cx="15.30" cy="9.00" r="0.6" fill="#222"/><circle cx="14.46" cy="12.15" r="0.6" fill="#222"/><circle cx="12.15" cy="14.46" r="0.6" fill="#222"/><circle cx="9.00" cy="15.30" r="0.6" fill="#222"/><circle cx="5.85" cy="14.46" r="0.6" fill="#222"/><circle cx="3.54" cy="12.15" r="0.6" fill="#222"/><circle cx="2.70" cy="9.00" r="0.6" fill="#222"/><circle cx="3.54" cy="5.85" r="0.6" fill="#222"/><circle cx="5.85" cy="3.54" r="0.6" fill="#222"/><circle cx="9.00" cy="2.70" r="0.6" fill="#222"/><circle cx="12.15" cy="3.54" r="0.6" fill="#222"/><circle cx="14.46" cy="5.85" r="0.6" fill="#222"/><path d="M8.5 3.5 V9.5 L11.5 12" fill="none" stroke="#222" stroke-width="1.5"/></svg>
<div class="a" style="left:692px;top:282px;width:14px;height:14px;background:#fff;border:2px solid #777;border-radius:2px"></div>
<div class="t" style="right:1582px;top:309.44px;font-size:12px;font-weight:normal;color:#000;text-align:right;">Status Preventive</div>
<div class="a" style="left:352px;top:304px;width:313px;height:22px;background:linear-gradient(#eaf2fc,#ffffff 70%);border:1px solid #b9cff0;"></div>
<svg style="left:670px;top:305.5px" width="18" height="18" viewBox="0 0 18 18"><circle cx="9" cy="9" r="8.3" fill="#fff" stroke="#222" stroke-width="1.2"/><circle cx="15.30" cy="9.00" r="0.6" fill="#222"/><circle cx="14.46" cy="12.15" r="0.6" fill="#222"/><circle cx="12.15" cy="14.46" r="0.6" fill="#222"/><circle cx="9.00" cy="15.30" r="0.6" fill="#222"/><circle cx="5.85" cy="14.46" r="0.6" fill="#222"/><circle cx="3.54" cy="12.15" r="0.6" fill="#222"/><circle cx="2.70" cy="9.00" r="0.6" fill="#222"/><circle cx="3.54" cy="5.85" r="0.6" fill="#222"/><circle cx="5.85" cy="3.54" r="0.6" fill="#222"/><circle cx="9.00" cy="2.70" r="0.6" fill="#222"/><circle cx="12.15" cy="3.54" r="0.6" fill="#222"/><circle cx="14.46" cy="5.85" r="0.6" fill="#222"/><path d="M8.5 3.5 V9.5 L11.5 12" fill="none" stroke="#222" stroke-width="1.5"/></svg>
<div class="a" style="left:692px;top:308px;width:14px;height:14px;background:#fff;border:2px solid #777;border-radius:2px"></div>
<div class="t" style="right:996.5px;top:231.44px;font-size:12px;font-weight:normal;color:#000;text-align:right;">Item</div>
<div class="a" style="left:938px;top:226px;width:313px;height:22px;background:linear-gradient(#eaf2fc,#ffffff 70%);border:1px solid #b9cff0;border-radius:3px"></div>
<div class="t" style="left:941.5px;top:231.69px;font-size:11px;font-weight:normal;color:#000;">FS1*</div>
<div class="t" style="right:996.5px;top:257.44px;font-size:12px;font-weight:normal;color:#000;text-align:right;">Last Change</div>
<div class="t" style="left:938.5px;top:258.29px;font-size:11px;font-weight:normal;color:#000;letter-spacing:0.1px">Between</div>
<div class="a" style="left:987px;top:252px;width:71px;height:22px;background:linear-gradient(#eaf2fc,#ffffff 70%);border:1px solid #b9cff0;border-radius:3px"></div>
<svg style="left:1060px;top:254px" width="16" height="16" viewBox="0 0 16 16"><rect x="0" y="2" width="16" height="3" fill="#1e8ad6"/><rect x="3" y="0" width="1.5" height="4" fill="#1e8ad6"/><rect x="11.5" y="0" width="1.5" height="4" fill="#1e8ad6"/><path d="M0.75 5 V15.25 H15.25 V5" fill="none" stroke="#333" stroke-width="1.5"/><g fill="#333"><rect x="3" y="7" width="4" height="3"/><rect x="9" y="7" width="4" height="3"/><rect x="3" y="11" width="4" height="3"/><rect x="9" y="11" width="4" height="3"/></g></svg>
<div class="t" style="left:1081px;top:258.29px;font-size:11px;font-weight:normal;color:#000;">to</div>
<div class="a" style="left:1095px;top:252px;width:71px;height:22px;background:linear-gradient(#eaf2fc,#ffffff 70%);border:1px solid #b9cff0;border-radius:3px"></div>
<svg style="left:1168px;top:254px" width="16" height="16" viewBox="0 0 16 16"><rect x="0" y="2" width="16" height="3" fill="#1e8ad6"/><rect x="3" y="0" width="1.5" height="4" fill="#1e8ad6"/><rect x="11.5" y="0" width="1.5" height="4" fill="#1e8ad6"/><path d="M0.75 5 V15.25 H15.25 V5" fill="none" stroke="#333" stroke-width="1.5"/><g fill="#333"><rect x="3" y="7" width="4" height="3"/><rect x="9" y="7" width="4" height="3"/><rect x="3" y="11" width="4" height="3"/><rect x="9" y="11" width="4" height="3"/></g></svg>
<svg style="left:1188px;top:254px" width="16" height="16" viewBox="0 0 16 16"><g transform="translate(8.0,8.0) scale(1.0)"><path d="M5.24 -1.97 L7.38 -1.81 L7.38 1.81 L5.24 1.97 L5.10 2.31 L6.50 3.94 L3.94 6.50 L2.31 5.10 L1.97 5.24 L1.81 7.38 L-1.81 7.38 L-1.97 5.24 L-2.31 5.10 L-3.94 6.50 L-6.50 3.94 L-5.10 2.31 L-5.24 1.97 L-7.38 1.81 L-7.38 -1.81 L-5.24 -1.97 L-5.10 -2.31 L-6.50 -3.94 L-3.94 -6.50 L-2.31 -5.10 L-1.97 -5.24 L-1.81 -7.38 L1.81 -7.38 L1.97 -5.24 L2.31 -5.10 L3.94 -6.50 L6.50 -3.94 L5.10 -2.31Z" fill="#c4c4c4" stroke="#727272" stroke-width="0.9" stroke-linejoin="round"/><circle r="4.2" fill="none" stroke="#dcdcdc" stroke-width="1.2"/><circle r="2.4" fill="#fff" stroke="#7a7a7a" stroke-width="0.9"/></g></svg>
<div class="t" style="right:996.5px;top:283.44px;font-size:12px;font-weight:normal;color:#000;text-align:right;">Last Change</div>
<div class="t" style="left:938.5px;top:284.29px;font-size:11px;font-weight:normal;color:#000;letter-spacing:0.1px">Between</div>
<div class="a" style="left:987px;top:278px;width:71px;height:22px;background:linear-gradient(#eaf2fc,#ffffff 70%);border:1px solid #b9cff0;border-radius:3px"></div>
<svg style="left:1060px;top:280px" width="16" height="16" viewBox="0 0 16 16"><rect x="0" y="2" width="16" height="3" fill="#1e8ad6"/><rect x="3" y="0" width="1.5" height="4" fill="#1e8ad6"/><rect x="11.5" y="0" width="1.5" height="4" fill="#1e8ad6"/><path d="M0.75 5 V15.25 H15.25 V5" fill="none" stroke="#333" stroke-width="1.5"/><g fill="#333"><rect x="3" y="7" width="4" height="3"/><rect x="9" y="7" width="4" height="3"/><rect x="3" y="11" width="4" height="3"/><rect x="9" y="11" width="4" height="3"/></g></svg>
<div class="t" style="left:1081px;top:284.29px;font-size:11px;font-weight:normal;color:#000;">to</div>
<div class="a" style="left:1095px;top:278px;width:71px;height:22px;background:linear-gradient(#eaf2fc,#ffffff 70%);border:1px solid #b9cff0;border-radius:3px"></div>
<svg style="left:1168px;top:280px" width="16" height="16" viewBox="0 0 16 16"><rect x="0" y="2" width="16" height="3" fill="#1e8ad6"/><rect x="3" y="0" width="1.5" height="4" fill="#1e8ad6"/><rect x="11.5" y="0" width="1.5" height="4" fill="#1e8ad6"/><path d="M0.75 5 V15.25 H15.25 V5" fill="none" stroke="#333" stroke-width="1.5"/><g fill="#333"><rect x="3" y="7" width="4" height="3"/><rect x="9" y="7" width="4" height="3"/><rect x="3" y="11" width="4" height="3"/><rect x="9" y="11" width="4" height="3"/></g></svg>
<svg style="left:1188px;top:280px" width="16" height="16" viewBox="0 0 16 16"><g transform="translate(8.0,8.0) scale(1.0)"><path d="M5.24 -1.97 L7.38 -1.81 L7.38 1.81 L5.24 1.97 L5.10 2.31 L6.50 3.94 L3.94 6.50 L2.31 5.10 L1.97 5.24 L1.81 7.38 L-1.81 7.38 L-1.97 5.24 L-2.31 5.10 L-3.94 6.50 L-6.50 3.94 L-5.10 2.31 L-5.24 1.97 L-7.38 1.81 L-7.38 -1.81 L-5.24 -1.97 L-5.10 -2.31 L-6.50 -3.94 L-3.94 -6.50 L-2.31 -5.10 L-1.97 -5.24 L-1.81 -7.38 L1.81 -7.38 L1.97 -5.24 L2.31 -5.10 L3.94 -6.50 L6.50 -3.94 L5.10 -2.31Z" fill="#c4c4c4" stroke="#727272" stroke-width="0.9" stroke-linejoin="round"/><circle r="4.2" fill="none" stroke="#dcdcdc" stroke-width="1.2"/><circle r="2.4" fill="#fff" stroke="#7a7a7a" stroke-width="0.9"/></g></svg>
<div class="t" style="right:490.20000000000005px;top:231.44px;font-size:12px;font-weight:normal;color:#000;text-align:right;">Category</div>
<div class="a" style="left:1444px;top:226px;width:313px;height:22px;background:linear-gradient(#eaf2fc,#ffffff 70%);border:1px solid #b9cff0;border-radius:3px"></div>
<div class="t" style="right:490.20000000000005px;top:257.44px;font-size:12px;font-weight:normal;color:#000;text-align:right;">Serial No.</div>
<div class="a" style="left:1444px;top:252px;width:313px;height:22px;background:linear-gradient(#eaf2fc,#ffffff 70%);border:1px solid #b9cff0;border-radius:3px"></div>
<div class="t" style="right:490.20000000000005px;top:283.44px;font-size:12px;font-weight:normal;color:#000;text-align:right;">Ident No.</div>
<div class="a" style="left:1444px;top:278px;width:313px;height:22px;background:linear-gradient(#eaf2fc,#ffffff 70%);border:1px solid #b9cff0;border-radius:3px"></div>
<svg style="left:1759px;top:229px" width="17" height="16" viewBox="0 0 17 16"><rect x="0.5" y="0.5" width="7" height="3" fill="#8fb0e8" stroke="#4a6aa8" stroke-width="0.8"/><rect x="8.5" y="6" width="8" height="3" fill="#8fb0e8" stroke="#4a6aa8" stroke-width="0.8"/><rect x="8.5" y="12" width="8" height="3" fill="#8fb0e8" stroke="#4a6aa8" stroke-width="0.8"/><path d="M3 4 V13.5 H8.5 M3 7.5 H8.5" fill="none" stroke="#888" stroke-width="0.8"/></svg>
<div class="a" style="left:212px;top:335px;width:50px;height:24px;background:linear-gradient(#dfeaf7,#c6d8ef);border:1px solid #8a98aa;border-radius:3px;"></div>
<svg style="left:216px;top:340px" width="15" height="15" viewBox="0 0 15 15"><circle cx="6" cy="6" r="4.8" fill="#cfe8ff" stroke="#333" stroke-width="1.6"/><path d="M9.5 9.5 L13.5 13.5" stroke="#4a78c8" stroke-width="2.5" stroke-linecap="round"/></svg>
<div class="t" style="left:233px;top:341.69px;font-size:11px;font-weight:normal;color:#555;">Filter</div>
<div class="a" style="left:264px;top:335px;width:86px;height:24px;background:linear-gradient(#dfeaf7,#c6d8ef);border:1px solid #8a98aa;border-radius:3px;"></div>
<svg style="left:268px;top:339px" width="14" height="16" viewBox="0 0 14 16"><path d="M3 4 H9 A4.5 4.5 0 0 1 9 13 H3" fill="none" stroke="#1e8ad6" stroke-width="2.5"/><path d="M0 4 L5 0 V8Z" fill="#1e8ad6"/></svg>
<div class="t" style="left:285px;top:341.69px;font-size:11px;font-weight:normal;color:#555;">Reset Fields</div>
<div class="a" style="left:357px;top:333px;width:1px;height:29px;background:#c8c8c8"></div>
<div class="t" style="left:365px;top:341.69px;font-size:11px;font-weight:normal;color:#000;letter-spacing:-0.1px;color:#222">My Filters</div>
<div class="a" style="left:413px;top:335px;width:150px;height:25px;background:#fff;border:1px solid #bcd2f0"></div>
<div class="a" style="left:539px;top:336px;width:23px;height:23px;background:#d6e4f2"></div>
<svg style="left:545px;top:345px" width="11" height="7" viewBox="0 0 11 7"><path d="M0 0 H11 L5.5 6Z" fill="#111"/></svg>
<svg style="left:567px;top:339px" width="17" height="17" viewBox="0 0 17 17"><path d="M0.5 0.5 H12.5 L8 6 V16 L5 13 V6Z" fill="#f5a81a" stroke="#222" stroke-width="1"/><path d="M10 8 H12.5 V10.5 H15 V13 H12.5 V15.5 H10 V13 H7.5 V10.5 H10Z" fill="#8ad030" stroke="#3a7010" stroke-width="0.6"/></svg>
<svg style="left:589px;top:339px" width="17" height="17" viewBox="0 0 17 17"><path d="M0.5 0.5 H12.5 L8 6 V16 L5 13 V6Z" fill="#c8b890" stroke="#555" stroke-width="1"/><path d="M8 9 L15 16 M15 9 L8 16" stroke="#a04040" stroke-width="2.2"/></svg>
<div class="a" style="left:1715px;top:340px;width:14px;height:14px;background:#fff;border:2px solid #888;border-radius:2px"></div>
<div class="t" style="left:1734px;top:342.53px;font-size:10.6px;font-weight:normal;color:#000;">Apply Filter Immediately</div>
<div class="a" style="left:1853px;top:333px;width:1px;height:29px;background:#c8c8c8"></div>
<svg style="left:1863px;top:337px" width="16" height="16" viewBox="0 0 16 16"><g transform="translate(8.0,8.0) scale(1.0)"><path d="M5.24 -1.97 L7.38 -1.81 L7.38 1.81 L5.24 1.97 L5.10 2.31 L6.50 3.94 L3.94 6.50 L2.31 5.10 L1.97 5.24 L1.81 7.38 L-1.81 7.38 L-1.97 5.24 L-2.31 5.10 L-3.94 6.50 L-6.50 3.94 L-5.10 2.31 L-5.24 1.97 L-7.38 1.81 L-7.38 -1.81 L-5.24 -1.97 L-5.10 -2.31 L-6.50 -3.94 L-3.94 -6.50 L-2.31 -5.10 L-1.97 -5.24 L-1.81 -7.38 L1.81 -7.38 L1.97 -5.24 L2.31 -5.10 L3.94 -6.50 L6.50 -3.94 L5.10 -2.31Z" fill="#c4c4c4" stroke="#727272" stroke-width="0.9" stroke-linejoin="round"/><circle r="4.2" fill="none" stroke="#dcdcdc" stroke-width="1.2"/><circle r="2.4" fill="#fff" stroke="#7a7a7a" stroke-width="0.9"/></g></svg>
<div class="a" style="left:205px;top:377px;width:1683px;height:332px;background:#f4f4f4;border:1px solid #c9c9c9;border-radius:5px;overflow:hidden"></div>
<div class="a" style="left:206px;top:378px;width:1681px;height:29px;background:linear-gradient(#eaf2fc,#cfe0f7);border-radius:4px 4px 0 0"></div>
<div class="a" style="left:1585px;top:382px;width:150px;height:17px;background:#fff;border:1px solid #c3d6f0"></div>
<div class="a" style="left:1720px;top:383px;width:14px;height:15px;background:#d6e4f2"></div>
<svg style="left:1723px;top:389px" width="8" height="5" viewBox="0 0 8 5"><path d="M0 0 H8 L4 4.5Z" fill="#111"/></svg>
<div class="t" style="left:1593px;top:386.16px;font-size:10.8px;font-weight:normal;color:#000;">10 Elements per page</div>
<div class="t" style="left:1740px;top:386.49px;font-size:11px;font-weight:bold;color:#000;">Element: 1 - 10 of 15</div>
<svg style="left:1862px;top:383px" width="16" height="16" viewBox="0 0 16 16"><g transform="translate(8.0,8.0) scale(1.0)"><path d="M5.24 -1.97 L7.38 -1.81 L7.38 1.81 L5.24 1.97 L5.10 2.31 L6.50 3.94 L3.94 6.50 L2.31 5.10 L1.97 5.24 L1.81 7.38 L-1.81 7.38 L-1.97 5.24 L-2.31 5.10 L-3.94 6.50 L-6.50 3.94 L-5.10 2.31 L-5.24 1.97 L-7.38 1.81 L-7.38 -1.81 L-5.24 -1.97 L-5.10 -2.31 L-6.50 -3.94 L-3.94 -6.50 L-2.31 -5.10 L-1.97 -5.24 L-1.81 -7.38 L1.81 -7.38 L1.97 -5.24 L2.31 -5.10 L3.94 -6.50 L6.50 -3.94 L5.10 -2.31Z" fill="#c4c4c4" stroke="#727272" stroke-width="0.9" stroke-linejoin="round"/><circle r="4.2" fill="none" stroke="#dcdcdc" stroke-width="1.2"/><circle r="2.4" fill="#fff" stroke="#7a7a7a" stroke-width="0.9"/></g></svg>
<div class="a" style="left:206px;top:407px;width:1681px;height:40px;background:#f4f4f4;border-top:1px solid #c8daf3"></div>
<div class="a" style="left:206px;top:447px;width:1681px;height:231px;background:#fff"></div>
<svg style="left:214.5px;top:411px" width="12" height="12" viewBox="0 0 12 12"><path d="M6 0.5 L11.5 6 H8.5 V11.5 H3.5 V6 H0.5Z" fill="#8fb4ea" stroke="#5a7ec0" stroke-width="0.8"/></svg>
<div class="t" style="left:230.5px;top:411.05px;font-size:14px;font-weight:bold;color:#000;letter-spacing:0.3px">Item</div>
<svg style="left:337.5px;top:411px" width="12" height="12" viewBox="0 0 12 12"><path d="M1 4.8 L6 0.6 L11 4.8Z" fill="#a9c8f2" stroke="#5b86c6" stroke-width="0.8" stroke-linejoin="round"/><path d="M1 7.2 L6 11.4 L11 7.2Z" fill="#c8e41c" stroke="#6f9a12" stroke-width="0.8" stroke-linejoin="round"/></svg>
<div class="t" style="left:353.5px;top:411.05px;font-size:14px;font-weight:bold;color:#000;letter-spacing:0.3px">Template Category</div>
<svg style="left:516.5px;top:411px" width="12" height="12" viewBox="0 0 12 12"><path d="M1 4.8 L6 0.6 L11 4.8Z" fill="#a9c8f2" stroke="#5b86c6" stroke-width="0.8" stroke-linejoin="round"/><path d="M1 7.2 L6 11.4 L11 7.2Z" fill="#c8e41c" stroke="#6f9a12" stroke-width="0.8" stroke-linejoin="round"/></svg>
<div class="t" style="left:532.5px;top:411.05px;font-size:14px;font-weight:bold;color:#000;letter-spacing:0.3px">Status Corrective</div>
<svg style="left:701.5px;top:411px" width="12" height="12" viewBox="0 0 12 12"><path d="M1 4.8 L6 0.6 L11 4.8Z" fill="#a9c8f2" stroke="#5b86c6" stroke-width="0.8" stroke-linejoin="round"/><path d="M1 7.2 L6 11.4 L11 7.2Z" fill="#c8e41c" stroke="#6f9a12" stroke-width="0.8" stroke-linejoin="round"/></svg>
<div class="t" style="left:717.5px;top:411.05px;font-size:14px;font-weight:bold;color:#000;letter-spacing:0.3px">Ident No.</div>
<svg style="left:902.5px;top:411px" width="12" height="12" viewBox="0 0 12 12"><path d="M1 4.8 L6 0.6 L11 4.8Z" fill="#a9c8f2" stroke="#5b86c6" stroke-width="0.8" stroke-linejoin="round"/><path d="M1 7.2 L6 11.4 L11 7.2Z" fill="#c8e41c" stroke="#6f9a12" stroke-width="0.8" stroke-linejoin="round"/></svg>
<div class="t" style="left:918.5px;top:411.05px;font-size:14px;font-weight:bold;color:#000;letter-spacing:0.3px">Status</div>
<div class="t" style="left:918.5px;top:427.85px;font-size:14px;font-weight:bold;color:#000;letter-spacing:0.3px">Preventive</div>
<svg style="left:1023.5px;top:411px" width="12" height="12" viewBox="0 0 12 12"><path d="M1 4.8 L6 0.6 L11 4.8Z" fill="#a9c8f2" stroke="#5b86c6" stroke-width="0.8" stroke-linejoin="round"/><path d="M1 7.2 L6 11.4 L11 7.2Z" fill="#c8e41c" stroke="#6f9a12" stroke-width="0.8" stroke-linejoin="round"/></svg>
<div class="t" style="left:1039.5px;top:411.05px;font-size:14px;font-weight:bold;color:#000;letter-spacing:0.3px">Workshop</div>
<div class="t" style="left:1039.5px;top:427.85px;font-size:14px;font-weight:bold;color:#000;letter-spacing:0.3px">Status</div>
<div class="t" style="left:1144.5px;top:411.05px;font-size:14px;font-weight:bold;color:#000;letter-spacing:0.3px">Status Log</div>
<svg style="left:1265.5px;top:411px" width="12" height="12" viewBox="0 0 12 12"><path d="M1 4.8 L6 0.6 L11 4.8Z" fill="#a9c8f2" stroke="#5b86c6" stroke-width="0.8" stroke-linejoin="round"/><path d="M1 7.2 L6 11.4 L11 7.2Z" fill="#c8e41c" stroke="#6f9a12" stroke-width="0.8" stroke-linejoin="round"/></svg>
<div class="t" style="left:1281.5px;top:411.05px;font-size:14px;font-weight:bold;color:#000;letter-spacing:0.3px">Status</div>
<div class="t" style="left:1281.5px;top:427.85px;font-size:14px;font-weight:bold;color:#000;letter-spacing:0.3px">Operator</div>
<div class="t" style="left:1386.5px;top:411.05px;font-size:14px;font-weight:bold;color:#000;letter-spacing:0.3px">Status Log</div>
<div class="t" style="left:1386.5px;top:427.85px;font-size:14px;font-weight:bold;color:#000;letter-spacing:0.3px">Operator</div>
<svg style="left:1507.5px;top:411px" width="12" height="12" viewBox="0 0 12 12"><path d="M1 4.8 L6 0.6 L11 4.8Z" fill="#a9c8f2" stroke="#5b86c6" stroke-width="0.8" stroke-linejoin="round"/><path d="M1 7.2 L6 11.4 L11 7.2Z" fill="#c8e41c" stroke="#6f9a12" stroke-width="0.8" stroke-linejoin="round"/></svg>
<div class="t" style="left:1523.5px;top:411.05px;font-size:14px;font-weight:bold;color:#000;letter-spacing:0.3px">Planned Back into</div>
<div class="t" style="left:1523.5px;top:427.85px;font-size:14px;font-weight:bold;color:#000;letter-spacing:0.3px">Service</div>
<div class="a" style="left:328.0px;top:407px;width:1px;height:271px;background:#c5d8f2"></div>
<div class="a" style="left:507.0px;top:407px;width:1px;height:271px;background:#c5d8f2"></div>
<div class="a" style="left:692.0px;top:407px;width:1px;height:271px;background:#c5d8f2"></div>
<div class="a" style="left:893.0px;top:407px;width:1px;height:271px;background:#c5d8f2"></div>
<div class="a" style="left:1014.0px;top:407px;width:1px;height:271px;background:#c5d8f2"></div>
<div class="a" style="left:1135.0px;top:407px;width:1px;height:271px;background:#c5d8f2"></div>
<div class="a" style="left:1256.0px;top:407px;width:1px;height:271px;background:#c5d8f2"></div>
<div class="a" style="left:1377.0px;top:407px;width:1px;height:271px;background:#c5d8f2"></div>
<div class="a" style="left:1498.0px;top:407px;width:1px;height:271px;background:#c5d8f2"></div>
<div class="a" style="left:1699.0px;top:407px;width:1px;height:271px;background:#c5d8f2"></div>
<div class="a" style="left:206px;top:446.5px;width:1493px;height:1px;background:#c5d8f2"></div>
<svg style="left:213px;top:452.0px" width="12" height="12" viewBox="0 0 12 12"><g transform="scale(0.75)"><circle cx="8" cy="8" r="7.4" fill="#2f78b4" stroke="#1b3f66" stroke-width="1.1"/><ellipse cx="8" cy="4.2" rx="1.9" ry="1.6" fill="#fff"/><rect x="6.5" y="6.6" width="3" height="6.8" fill="#fff"/></g></svg>
<div class="t" style="left:231px;top:452.59px;font-size:11px;font-weight:normal;color:#2a6ad0;text-decoration:underline">FS101</div>
<div class="t" style="left:335.5px;top:452.59px;font-size:11px;font-weight:normal;color:#111;">Tram</div>
<div class="t" style="left:514.7px;top:452.59px;font-size:11px;font-weight:normal;color:#338233;">In working order</div>
<div class="t" style="left:900.8px;top:452.59px;font-size:11px;font-weight:normal;color:#e8333a;letter-spacing:-0.2px">Unusable</div>
<div class="a" style="left:1015.0px;top:447.5px;width:120px;height:22px;background:#076d07;overflow:hidden"><div class="t" style="left:6.5px;top:5.09px;font-size:11px;font-weight:normal;color:#fff;letter-spacing:-0.12px">ECM 4 - Workshop Approval</div></div>
<div class="a" style="left:1257.0px;top:447.5px;width:120px;height:22px;background:#076d07;overflow:hidden"><div class="t" style="left:6.5px;top:5.09px;font-size:11px;font-weight:normal;color:#fff;letter-spacing:-0.12px">ECM 3 - Operational release</div></div>
<svg style="left:1188px;top:448.6px" width="16" height="16" viewBox="0 0 16 16"><g transform="scale(1.0)"><circle cx="8" cy="8" r="7.4" fill="#2f78b4" stroke="#1b3f66" stroke-width="1.1"/><ellipse cx="8" cy="4.2" rx="1.9" ry="1.6" fill="#fff"/><rect x="6.5" y="6.6" width="3" height="6.8" fill="#fff"/></g></svg>
<svg style="left:1430px;top:448.6px" width="16" height="16" viewBox="0 0 16 16"><g transform="scale(1.0)"><circle cx="8" cy="8" r="7.4" fill="#2f78b4" stroke="#1b3f66" stroke-width="1.1"/><ellipse cx="8" cy="4.2" rx="1.9" ry="1.6" fill="#fff"/><rect x="6.5" y="6.6" width="3" height="6.8" fill="#fff"/></g></svg>
<div class="a" style="left:206px;top:470.1px;width:1493px;height:23px;background:#d6e0ec"></div>
<div class="a" style="left:206px;top:469.6px;width:1493px;height:1px;background:#c5d8f2"></div>
<svg style="left:213px;top:475.1px" width="12" height="12" viewBox="0 0 12 12"><g transform="scale(0.75)"><circle cx="8" cy="8" r="7.4" fill="#2f78b4" stroke="#1b3f66" stroke-width="1.1"/><ellipse cx="8" cy="4.2" rx="1.9" ry="1.6" fill="#fff"/><rect x="6.5" y="6.6" width="3" height="6.8" fill="#fff"/></g></svg>
<div class="t" style="left:231px;top:475.69px;font-size:11px;font-weight:bold;color:#2a6ad0;text-decoration:underline">FS102</div>
<div class="t" style="left:335.5px;top:475.69px;font-size:11px;font-weight:bold;color:#111;">Tram</div>
<div class="t" style="left:514.7px;top:475.69px;font-size:11px;font-weight:bold;color:#338233;">In working order</div>
<div class="t" style="left:900.8px;top:475.69px;font-size:11px;font-weight:bold;color:#e8333a;">Unusable</div>
<div class="a" style="left:1015.0px;top:470.6px;width:120px;height:22px;background:#ff0a0a;overflow:hidden"><div class="t" style="left:6.5px;top:5.09px;font-size:11px;font-weight:bold;color:#fff;letter-spacing:0.3px">ECM 4 - In Workshop</div></div>
<div class="a" style="left:1257.0px;top:470.6px;width:120px;height:22px;background:#ff9c00;overflow:hidden"><div class="t" style="left:6.5px;top:5.09px;font-size:11px;font-weight:bold;color:#111;letter-spacing:0.3px">ECM 3 - Restricted release</div></div>
<svg style="left:1188px;top:471.70000000000005px" width="16" height="16" viewBox="0 0 16 16"><g transform="scale(1.0)"><circle cx="8" cy="8" r="7.4" fill="#2f78b4" stroke="#1b3f66" stroke-width="1.1"/><ellipse cx="8" cy="4.2" rx="1.9" ry="1.6" fill="#fff"/><rect x="6.5" y="6.6" width="3" height="6.8" fill="#fff"/></g></svg>
<svg style="left:1430px;top:471.70000000000005px" width="16" height="16" viewBox="0 0 16 16"><g transform="scale(1.0)"><circle cx="8" cy="8" r="7.4" fill="#2f78b4" stroke="#1b3f66" stroke-width="1.1"/><ellipse cx="8" cy="4.2" rx="1.9" ry="1.6" fill="#fff"/><rect x="6.5" y="6.6" width="3" height="6.8" fill="#fff"/></g></svg>
<div class="a" style="left:206px;top:492.7px;width:1493px;height:1px;background:#c5d8f2"></div>
<svg style="left:213px;top:498.2px" width="12" height="12" viewBox="0 0 12 12"><g transform="scale(0.75)"><circle cx="8" cy="8" r="7.4" fill="#2f78b4" stroke="#1b3f66" stroke-width="1.1"/><ellipse cx="8" cy="4.2" rx="1.9" ry="1.6" fill="#fff"/><rect x="6.5" y="6.6" width="3" height="6.8" fill="#fff"/></g></svg>
<div class="t" style="left:231px;top:498.79px;font-size:11px;font-weight:normal;color:#2a6ad0;text-decoration:underline">FS103</div>
<div class="t" style="left:335.5px;top:498.79px;font-size:11px;font-weight:normal;color:#111;">Tram</div>
<div class="t" style="left:514.7px;top:498.79px;font-size:11px;font-weight:normal;color:#e8333a;letter-spacing:-0.2px">Unusable</div>
<div class="t" style="left:900.8px;top:498.79px;font-size:11px;font-weight:normal;color:#338233;">In working order</div>
<div class="a" style="left:1015.0px;top:493.7px;width:120px;height:22px;background:#076d07;overflow:hidden"><div class="t" style="left:6.5px;top:5.09px;font-size:11px;font-weight:normal;color:#fff;letter-spacing:-0.12px">ECM 4 - Workshop Approval</div></div>
<div class="a" style="left:1257.0px;top:493.7px;width:120px;height:22px;background:#076d07;overflow:hidden"><div class="t" style="left:6.5px;top:5.09px;font-size:11px;font-weight:normal;color:#fff;letter-spacing:-0.12px">ECM 3 - Operational release</div></div>
<svg style="left:1188px;top:494.8px" width="16" height="16" viewBox="0 0 16 16"><g transform="scale(1.0)"><circle cx="8" cy="8" r="7.4" fill="#2f78b4" stroke="#1b3f66" stroke-width="1.1"/><ellipse cx="8" cy="4.2" rx="1.9" ry="1.6" fill="#fff"/><rect x="6.5" y="6.6" width="3" height="6.8" fill="#fff"/></g></svg>
<svg style="left:1430px;top:494.8px" width="16" height="16" viewBox="0 0 16 16"><g transform="scale(1.0)"><circle cx="8" cy="8" r="7.4" fill="#2f78b4" stroke="#1b3f66" stroke-width="1.1"/><ellipse cx="8" cy="4.2" rx="1.9" ry="1.6" fill="#fff"/><rect x="6.5" y="6.6" width="3" height="6.8" fill="#fff"/></g></svg>
<div class="a" style="left:206px;top:515.8px;width:1493px;height:1px;background:#c5d8f2"></div>
<svg style="left:213px;top:521.3px" width="12" height="12" viewBox="0 0 12 12"><g transform="scale(0.75)"><circle cx="8" cy="8" r="7.4" fill="#2f78b4" stroke="#1b3f66" stroke-width="1.1"/><ellipse cx="8" cy="4.2" rx="1.9" ry="1.6" fill="#fff"/><rect x="6.5" y="6.6" width="3" height="6.8" fill="#fff"/></g></svg>
<div class="t" style="left:231px;top:521.89px;font-size:11px;font-weight:normal;color:#2a6ad0;text-decoration:underline">FS104</div>
<div class="t" style="left:335.5px;top:521.89px;font-size:11px;font-weight:normal;color:#111;">Tram</div>
<div class="t" style="left:514.7px;top:521.89px;font-size:11px;font-weight:normal;color:#338233;">In working order</div>
<div class="t" style="left:900.8px;top:521.89px;font-size:11px;font-weight:normal;color:#e8333a;letter-spacing:-0.2px">Unusable</div>
<div class="a" style="left:1015.0px;top:516.8px;width:120px;height:22px;background:#ff0a0a;overflow:hidden"><div class="t" style="left:6.5px;top:5.09px;font-size:11px;font-weight:normal;color:#fff;letter-spacing:-0.12px">ECM 4 - In Workshop</div></div>
<div class="a" style="left:1257.0px;top:516.8px;width:120px;height:22px;background:#ff0a0a;overflow:hidden"><div class="t" style="left:6.5px;top:5.09px;font-size:11px;font-weight:normal;color:#fff;letter-spacing:-0.12px">ECM 3 - Decommissioning</div></div>
<svg style="left:1188px;top:517.9px" width="16" height="16" viewBox="0 0 16 16"><g transform="scale(1.0)"><circle cx="8" cy="8" r="7.4" fill="#2f78b4" stroke="#1b3f66" stroke-width="1.1"/><ellipse cx="8" cy="4.2" rx="1.9" ry="1.6" fill="#fff"/><rect x="6.5" y="6.6" width="3" height="6.8" fill="#fff"/></g></svg>
<svg style="left:1430px;top:517.9px" width="16" height="16" viewBox="0 0 16 16"><g transform="scale(1.0)"><circle cx="8" cy="8" r="7.4" fill="#2f78b4" stroke="#1b3f66" stroke-width="1.1"/><ellipse cx="8" cy="4.2" rx="1.9" ry="1.6" fill="#fff"/><rect x="6.5" y="6.6" width="3" height="6.8" fill="#fff"/></g></svg>
<div class="t" style="left:1506px;top:521.89px;font-size:11px;font-weight:normal;color:#111;">08/04/2020</div>
<div class="a" style="left:206px;top:538.9px;width:1493px;height:1px;background:#c5d8f2"></div>
<svg style="left:213px;top:544.4px" width="12" height="12" viewBox="0 0 12 12"><g transform="scale(0.75)"><circle cx="8" cy="8" r="7.4" fill="#2f78b4" stroke="#1b3f66" stroke-width="1.1"/><ellipse cx="8" cy="4.2" rx="1.9" ry="1.6" fill="#fff"/><rect x="6.5" y="6.6" width="3" height="6.8" fill="#fff"/></g></svg>
<div class="t" style="left:231px;top:544.99px;font-size:11px;font-weight:normal;color:#2a6ad0;text-decoration:underline">FS105</div>
<div class="t" style="left:335.5px;top:544.99px;font-size:11px;font-weight:normal;color:#111;">Tram</div>
<div class="t" style="left:514.7px;top:544.99px;font-size:11px;font-weight:normal;color:#338233;">In working order</div>
<div class="t" style="left:900.8px;top:544.99px;font-size:11px;font-weight:normal;color:#e8333a;letter-spacing:-0.2px">Unusable</div>
<div class="a" style="left:1015.0px;top:539.9px;width:120px;height:22px;background:#ff0a0a;overflow:hidden"><div class="t" style="left:6.5px;top:5.09px;font-size:11px;font-weight:normal;color:#fff;letter-spacing:-0.12px">ECM 4 - Forwarding to workshop</div></div>
<div class="a" style="left:1257.0px;top:539.9px;width:120px;height:22px;background:#ff0a0a;overflow:hidden"><div class="t" style="left:6.5px;top:5.09px;font-size:11px;font-weight:normal;color:#fff;letter-spacing:-0.12px">ECM 3 - Decommissioning</div></div>
<svg style="left:1188px;top:541.0px" width="16" height="16" viewBox="0 0 16 16"><g transform="scale(1.0)"><circle cx="8" cy="8" r="7.4" fill="#2f78b4" stroke="#1b3f66" stroke-width="1.1"/><ellipse cx="8" cy="4.2" rx="1.9" ry="1.6" fill="#fff"/><rect x="6.5" y="6.6" width="3" height="6.8" fill="#fff"/></g></svg>
<svg style="left:1430px;top:541.0px" width="16" height="16" viewBox="0 0 16 16"><g transform="scale(1.0)"><circle cx="8" cy="8" r="7.4" fill="#2f78b4" stroke="#1b3f66" stroke-width="1.1"/><ellipse cx="8" cy="4.2" rx="1.9" ry="1.6" fill="#fff"/><rect x="6.5" y="6.6" width="3" height="6.8" fill="#fff"/></g></svg>
<div class="t" style="left:1506px;top:544.99px;font-size:11px;font-weight:normal;color:#111;">03/04/2020</div>
<div class="a" style="left:206px;top:562.0px;width:1493px;height:1px;background:#c5d8f2"></div>
<svg style="left:213px;top:567.5px" width="12" height="12" viewBox="0 0 12 12"><g transform="scale(0.75)"><circle cx="8" cy="8" r="7.4" fill="#2f78b4" stroke="#1b3f66" stroke-width="1.1"/><ellipse cx="8" cy="4.2" rx="1.9" ry="1.6" fill="#fff"/><rect x="6.5" y="6.6" width="3" height="6.8" fill="#fff"/></g></svg>
<div class="t" style="left:231px;top:568.09px;font-size:11px;font-weight:normal;color:#2a6ad0;text-decoration:underline">FS106</div>
<div class="t" style="left:335.5px;top:568.09px;font-size:11px;font-weight:normal;color:#111;">Tram</div>
<div class="t" style="left:514.7px;top:568.09px;font-size:11px;font-weight:normal;color:#338233;">In working order</div>
<div class="t" style="left:900.8px;top:568.09px;font-size:11px;font-weight:normal;color:#338233;">In working order</div>
<div class="a" style="left:1015.0px;top:563.0px;width:120px;height:22px;background:#076d07;overflow:hidden"><div class="t" style="left:6.5px;top:5.09px;font-size:11px;font-weight:normal;color:#fff;letter-spacing:-0.12px">ECM 4 - Workshop Approval</div></div>
<div class="a" style="left:1257.0px;top:563.0px;width:120px;height:22px;background:#076d07;overflow:hidden"><div class="t" style="left:6.5px;top:5.09px;font-size:11px;font-weight:normal;color:#fff;letter-spacing:-0.12px">ECM 3 - Operational release</div></div>
<svg style="left:1188px;top:564.1px" width="16" height="16" viewBox="0 0 16 16"><g transform="scale(1.0)"><circle cx="8" cy="8" r="7.4" fill="#2f78b4" stroke="#1b3f66" stroke-width="1.1"/><ellipse cx="8" cy="4.2" rx="1.9" ry="1.6" fill="#fff"/><rect x="6.5" y="6.6" width="3" height="6.8" fill="#fff"/></g></svg>
<svg style="left:1430px;top:564.1px" width="16" height="16" viewBox="0 0 16 16"><g transform="scale(1.0)"><circle cx="8" cy="8" r="7.4" fill="#2f78b4" stroke="#1b3f66" stroke-width="1.1"/><ellipse cx="8" cy="4.2" rx="1.9" ry="1.6" fill="#fff"/><rect x="6.5" y="6.6" width="3" height="6.8" fill="#fff"/></g></svg>
<div class="t" style="left:1506px;top:568.09px;font-size:11px;font-weight:normal;color:#111;">27/08/2020</div>
<div class="a" style="left:206px;top:585.1px;width:1493px;height:1px;background:#c5d8f2"></div>
<svg style="left:213px;top:590.6px" width="12" height="12" viewBox="0 0 12 12"><g transform="scale(0.75)"><circle cx="8" cy="8" r="7.4" fill="#2f78b4" stroke="#1b3f66" stroke-width="1.1"/><ellipse cx="8" cy="4.2" rx="1.9" ry="1.6" fill="#fff"/><rect x="6.5" y="6.6" width="3" height="6.8" fill="#fff"/></g></svg>
<div class="t" style="left:231px;top:591.19px;font-size:11px;font-weight:normal;color:#2a6ad0;text-decoration:underline">FS107</div>
<div class="t" style="left:335.5px;top:591.19px;font-size:11px;font-weight:normal;color:#111;">Tram</div>
<div class="t" style="left:514.7px;top:591.19px;font-size:11px;font-weight:normal;color:#338233;">In working order</div>
<div class="t" style="left:900.8px;top:591.19px;font-size:11px;font-weight:normal;color:#e8333a;letter-spacing:-0.2px">Unusable</div>
<div class="a" style="left:1015.0px;top:586.1px;width:120px;height:22px;background:#076d07;overflow:hidden"><div class="t" style="left:6.5px;top:5.09px;font-size:11px;font-weight:normal;color:#fff;letter-spacing:-0.12px">ECM 4 - Workshop Approval</div></div>
<div class="a" style="left:1257.0px;top:586.1px;width:120px;height:22px;background:#076d07;overflow:hidden"><div class="t" style="left:6.5px;top:5.09px;font-size:11px;font-weight:normal;color:#fff;letter-spacing:-0.12px">ECM 3 - Operational release</div></div>
<svg style="left:1188px;top:587.2px" width="16" height="16" viewBox="0 0 16 16"><g transform="scale(1.0)"><circle cx="8" cy="8" r="7.4" fill="#2f78b4" stroke="#1b3f66" stroke-width="1.1"/><ellipse cx="8" cy="4.2" rx="1.9" ry="1.6" fill="#fff"/><rect x="6.5" y="6.6" width="3" height="6.8" fill="#fff"/></g></svg>
<svg style="left:1430px;top:587.2px" width="16" height="16" viewBox="0 0 16 16"><g transform="scale(1.0)"><circle cx="8" cy="8" r="7.4" fill="#2f78b4" stroke="#1b3f66" stroke-width="1.1"/><ellipse cx="8" cy="4.2" rx="1.9" ry="1.6" fill="#fff"/><rect x="6.5" y="6.6" width="3" height="6.8" fill="#fff"/></g></svg>
<div class="a" style="left:206px;top:608.2px;width:1493px;height:1px;background:#c5d8f2"></div>
<svg style="left:213px;top:613.7px" width="12" height="12" viewBox="0 0 12 12"><g transform="scale(0.75)"><circle cx="8" cy="8" r="7.4" fill="#2f78b4" stroke="#1b3f66" stroke-width="1.1"/><ellipse cx="8" cy="4.2" rx="1.9" ry="1.6" fill="#fff"/><rect x="6.5" y="6.6" width="3" height="6.8" fill="#fff"/></g></svg>
<div class="t" style="left:231px;top:614.29px;font-size:11px;font-weight:normal;color:#2a6ad0;text-decoration:underline">FS108</div>
<div class="t" style="left:335.5px;top:614.29px;font-size:11px;font-weight:normal;color:#111;">Tram</div>
<div class="t" style="left:514.7px;top:614.29px;font-size:11px;font-weight:normal;color:#338233;">In working order</div>
<div class="t" style="left:900.8px;top:614.29px;font-size:11px;font-weight:normal;color:#e8333a;letter-spacing:-0.2px">Unusable</div>
<div class="a" style="left:1015.0px;top:609.2px;width:120px;height:22px;background:#076d07;overflow:hidden"><div class="t" style="left:6.5px;top:5.09px;font-size:11px;font-weight:normal;color:#fff;letter-spacing:-0.12px">ECM 4 - Workshop Approval</div></div>
<div class="a" style="left:1257.0px;top:609.2px;width:120px;height:22px;background:#076d07;overflow:hidden"><div class="t" style="left:6.5px;top:5.09px;font-size:11px;font-weight:normal;color:#fff;letter-spacing:-0.12px">ECM 3 - Operational release</div></div>
<svg style="left:1188px;top:610.3000000000001px" width="16" height="16" viewBox="0 0 16 16"><g transform="scale(1.0)"><circle cx="8" cy="8" r="7.4" fill="#2f78b4" stroke="#1b3f66" stroke-width="1.1"/><ellipse cx="8" cy="4.2" rx="1.9" ry="1.6" fill="#fff"/><rect x="6.5" y="6.6" width="3" height="6.8" fill="#fff"/></g></svg>
<svg style="left:1430px;top:610.3000000000001px" width="16" height="16" viewBox="0 0 16 16"><g transform="scale(1.0)"><circle cx="8" cy="8" r="7.4" fill="#2f78b4" stroke="#1b3f66" stroke-width="1.1"/><ellipse cx="8" cy="4.2" rx="1.9" ry="1.6" fill="#fff"/><rect x="6.5" y="6.6" width="3" height="6.8" fill="#fff"/></g></svg>
<div class="a" style="left:206px;top:631.3px;width:1493px;height:1px;background:#c5d8f2"></div>
<svg style="left:213px;top:636.8px" width="12" height="12" viewBox="0 0 12 12"><g transform="scale(0.75)"><circle cx="8" cy="8" r="7.4" fill="#2f78b4" stroke="#1b3f66" stroke-width="1.1"/><ellipse cx="8" cy="4.2" rx="1.9" ry="1.6" fill="#fff"/><rect x="6.5" y="6.6" width="3" height="6.8" fill="#fff"/></g></svg>
<div class="t" style="left:231px;top:637.39px;font-size:11px;font-weight:normal;color:#2a6ad0;text-decoration:underline">FS109</div>
<div class="t" style="left:335.5px;top:637.39px;font-size:11px;font-weight:normal;color:#111;">Tram</div>
<div class="t" style="left:514.7px;top:637.39px;font-size:11px;font-weight:normal;color:#338233;">In working order</div>
<div class="t" style="left:900.8px;top:637.39px;font-size:11px;font-weight:normal;color:#e8333a;letter-spacing:-0.2px">Unusable</div>
<div class="a" style="left:1015.0px;top:632.3px;width:120px;height:22px;background:#076d07;overflow:hidden"><div class="t" style="left:6.5px;top:5.09px;font-size:11px;font-weight:normal;color:#fff;letter-spacing:-0.12px">ECM 4 - Workshop Approval</div></div>
<div class="a" style="left:1257.0px;top:632.3px;width:120px;height:22px;background:#076d07;overflow:hidden"><div class="t" style="left:6.5px;top:5.09px;font-size:11px;font-weight:normal;color:#fff;letter-spacing:-0.12px">ECM 3 - Operational release</div></div>
<svg style="left:1188px;top:633.4px" width="16" height="16" viewBox="0 0 16 16"><g transform="scale(1.0)"><circle cx="8" cy="8" r="7.4" fill="#2f78b4" stroke="#1b3f66" stroke-width="1.1"/><ellipse cx="8" cy="4.2" rx="1.9" ry="1.6" fill="#fff"/><rect x="6.5" y="6.6" width="3" height="6.8" fill="#fff"/></g></svg>
<svg style="left:1430px;top:633.4px" width="16" height="16" viewBox="0 0 16 16"><g transform="scale(1.0)"><circle cx="8" cy="8" r="7.4" fill="#2f78b4" stroke="#1b3f66" stroke-width="1.1"/><ellipse cx="8" cy="4.2" rx="1.9" ry="1.6" fill="#fff"/><rect x="6.5" y="6.6" width="3" height="6.8" fill="#fff"/></g></svg>
<div class="a" style="left:206px;top:654.4px;width:1493px;height:1px;background:#c5d8f2"></div>
<svg style="left:213px;top:659.9px" width="12" height="12" viewBox="0 0 12 12"><g transform="scale(0.75)"><circle cx="8" cy="8" r="7.4" fill="#2f78b4" stroke="#1b3f66" stroke-width="1.1"/><ellipse cx="8" cy="4.2" rx="1.9" ry="1.6" fill="#fff"/><rect x="6.5" y="6.6" width="3" height="6.8" fill="#fff"/></g></svg>
<div class="t" style="left:231px;top:660.49px;font-size:11px;font-weight:normal;color:#2a6ad0;text-decoration:underline">FS110</div>
<div class="t" style="left:335.5px;top:660.49px;font-size:11px;font-weight:normal;color:#111;">Tram</div>
<div class="t" style="left:514.7px;top:660.49px;font-size:11px;font-weight:normal;color:#338233;">In working order</div>
<div class="t" style="left:900.8px;top:660.49px;font-size:11px;font-weight:normal;color:#e8333a;letter-spacing:-0.2px">Unusable</div>
<div class="a" style="left:1015.0px;top:655.4px;width:120px;height:22px;background:#076d07;overflow:hidden"><div class="t" style="left:6.5px;top:5.09px;font-size:11px;font-weight:normal;color:#fff;letter-spacing:-0.12px">ECM 4 - Workshop Approval</div></div>
<div class="a" style="left:1257.0px;top:655.4px;width:120px;height:22px;background:#076d07;overflow:hidden"><div class="t" style="left:6.5px;top:5.09px;font-size:11px;font-weight:normal;color:#fff;letter-spacing:-0.12px">ECM 3 - Operational release</div></div>
<svg style="left:1188px;top:656.5px" width="16" height="16" viewBox="0 0 16 16"><g transform="scale(1.0)"><circle cx="8" cy="8" r="7.4" fill="#2f78b4" stroke="#1b3f66" stroke-width="1.1"/><ellipse cx="8" cy="4.2" rx="1.9" ry="1.6" fill="#fff"/><rect x="6.5" y="6.6" width="3" height="6.8" fill="#fff"/></g></svg>
<svg style="left:1430px;top:656.5px" width="16" height="16" viewBox="0 0 16 16"><g transform="scale(1.0)"><circle cx="8" cy="8" r="7.4" fill="#2f78b4" stroke="#1b3f66" stroke-width="1.1"/><ellipse cx="8" cy="4.2" rx="1.9" ry="1.6" fill="#fff"/><rect x="6.5" y="6.6" width="3" height="6.8" fill="#fff"/></g></svg>
<div class="a" style="left:206px;top:677.5px;width:1681px;height:1px;background:#c4c4c4"></div>
<div class="a" style="left:214px;top:684px;width:46px;height:20px;background:linear-gradient(#e8f0fb,#c9dcf3);border:1px solid #a8bfdf;"></div>
<div class="t" style="left:214px;top:689px;width:46px;text-align:center;font-size:11px;font-weight:bold;color:#b8c4d4;letter-spacing:-0.3px">««««</div>
<div class="a" style="left:261px;top:684px;width:34px;height:20px;background:linear-gradient(#e8f0fb,#c9dcf3);border:1px solid #a8bfdf;"></div>
<div class="t" style="left:261px;top:689px;width:34px;text-align:center;font-size:11px;font-weight:bold;color:#b8c4d4;letter-spacing:-0.3px">««</div>
<div class="a" style="left:296px;top:684px;width:28px;height:20px;background:linear-gradient(#e8f0fb,#c9dcf3);border:1px solid #a8bfdf;"></div>
<div class="t" style="left:296px;top:689px;width:28px;text-align:center;font-size:11px;font-weight:bold;color:#b8c4d4;letter-spacing:-0.3px">«</div>
<div class="a" style="left:386px;top:684px;width:28px;height:20px;background:linear-gradient(#e8f0fb,#c9dcf3);border:1px solid #a8bfdf;"></div>
<div class="t" style="left:386px;top:689px;width:28px;text-align:center;font-size:11px;font-weight:bold;color:#2a3a5a;letter-spacing:-0.3px">»</div>
<div class="a" style="left:415px;top:684px;width:34px;height:20px;background:linear-gradient(#e8f0fb,#c9dcf3);border:1px solid #a8bfdf;"></div>
<div class="t" style="left:415px;top:689px;width:34px;text-align:center;font-size:11px;font-weight:bold;color:#2a3a5a;letter-spacing:-0.3px">»»</div>
<div class="a" style="left:450px;top:684px;width:46px;height:20px;background:linear-gradient(#e8f0fb,#c9dcf3);border:1px solid #a8bfdf;"></div>
<div class="t" style="left:450px;top:689px;width:46px;text-align:center;font-size:11px;font-weight:bold;color:#2a3a5a;letter-spacing:-0.3px">»»»»</div>
<div class="a" style="left:326px;top:683px;width:27px;height:21px;background:#fff;border-bottom:1px solid #b8c8dc"></div>
<div class="t" style="left:335.5px;top:687.84px;font-size:12px;font-weight:normal;color:#000;">1</div>
<div class="a" style="left:356px;top:683px;width:28px;height:20px;background:linear-gradient(#f0f4fa,#ffffff)"></div>
<div class="t" style="left:366px;top:687.84px;font-size:12px;font-weight:normal;color:#000;">2</div>
<div class="a" style="left:1617px;top:685px;width:150px;height:17px;background:#fff;border:1px solid #c3d6f0"></div>
<div class="a" style="left:1752px;top:686px;width:14px;height:15px;background:#d6e4f2"></div>
<svg style="left:1755px;top:692px" width="8" height="5" viewBox="0 0 8 5"><path d="M0 0 H8 L4 4.5Z" fill="#111"/></svg>
<div class="t" style="left:1625px;top:689.36px;font-size:10.8px;font-weight:normal;color:#000;">10 Elements per page</div>
<div class="t" style="left:1772px;top:689.19px;font-size:11px;font-weight:bold;color:#000;letter-spacing:0.1px">Element: 1 - 10 of 15</div>
<div class="a" style="left:194px;top:729px;width:1705px;height:160px;background:#fff;border:1px solid #e8e8e8;box-shadow:0 0 4px rgba(0,0,0,0.12)"></div>
<div class="a" style="left:205px;top:741px;width:1683px;height:150px;background:#fff;border:1px solid #bcd2f0;border-radius:5px 5px 0 0"></div>
<div class="a" style="left:206px;top:742px;width:1681px;height:21px;background:linear-gradient(#f6f9fe,#e4eefb);border-radius:4px 4px 0 0"></div>
<div class="a" style="left:206px;top:763px;width:1681px;height:4px;background:#c5daf5"></div>
<div class="a" style="left:212px;top:743px;width:67px;height:21px;background:linear-gradient(#ffffff,#d8e6f8);border:1px solid #c5daf5;border-bottom:none"></div>
<div class="t" style="left:218px;top:747.19px;font-size:11px;font-weight:bold;color:#222;">Basic Data</div>
<div class="a" style="left:281px;top:743px;width:53px;height:20px;background:#e6e6e6;border:1px solid #d2dff0;border-bottom:none"></div>
<div class="t" style="left:281px;top:745.99px;width:53px;text-align:center;font-size:11px;color:#1a1a1a">Records</div>
<div class="a" style="left:336px;top:743px;width:66px;height:20px;background:#e6e6e6;border:1px solid #d2dff0;border-bottom:none"></div>
<div class="t" style="left:336px;top:745.99px;width:66px;text-align:center;font-size:11px;color:#1a1a1a">Documents</div>
<div class="a" style="left:404px;top:743px;width:99px;height:20px;background:#e6e6e6;border:1px solid #d2dff0;border-bottom:none"></div>
<div class="t" style="left:404px;top:745.99px;width:99px;text-align:center;font-size:11px;color:#1a1a1a">Meter Registration</div>
<div class="a" style="left:0;top:0;width:1920px;height:871.7px;overflow:hidden">
<div class="t" style="left:233.5px;top:784.74px;font-size:13.3px;font-weight:bold;color:#111;">Item</div>
<div class="a" style="left:392px;top:784.4px;width:152px;height:19px;background:#fff;border:1px solid #b9cff0;border-radius:3px"></div>
<div class="t" style="left:393.3px;top:788.24px;font-size:12px;font-weight:normal;color:#333;">FS102</div>
<svg style="left:547px;top:786.1999999999999px" width="16" height="16" viewBox="0 0 16 16"><g transform="scale(1.0)"><circle cx="8" cy="8" r="7.4" fill="#2f78b4" stroke="#1b3f66" stroke-width="1.1"/><ellipse cx="8" cy="4.2" rx="1.9" ry="1.6" fill="#fff"/><rect x="6.5" y="6.6" width="3" height="6.8" fill="#fff"/></g></svg>
<div class="t" style="left:233.5px;top:811.24px;font-size:13.3px;font-weight:bold;color:#111;">Template Category</div>
<div class="a" style="left:392px;top:809.6999999999999px;width:152px;height:19px;background:#fff;border:1px solid #b9cff0;border-radius:3px"></div>
<div class="t" style="left:393.3px;top:813.54px;font-size:12px;font-weight:normal;color:#333;">Tram</div>
<div class="t" style="left:233.5px;top:836.24px;font-size:13.3px;font-weight:bold;color:#111;">Date of admin. begin.</div>
<div class="a" style="left:392px;top:835.0px;width:152px;height:19px;background:#fff;border:1px solid #b9cff0;border-radius:3px"></div>
<div class="t" style="left:393.3px;top:838.84px;font-size:12px;font-weight:normal;color:#333;">01/01/2010</div>
<div class="t" style="left:233.5px;top:861.74px;font-size:13.3px;font-weight:bold;color:#111;">Serial No.</div>
<div class="a" style="left:392px;top:860.3px;width:152px;height:19px;background:#fff;border:1px solid #b9cff0;border-radius:3px"></div>
<div class="t" style="left:393.3px;top:864.14px;font-size:12px;font-weight:normal;color:#333;">102-349-18R</div>
<div class="t" style="left:637px;top:784.90px;font-size:13px;font-weight:bold;color:#111;letter-spacing:0.1px">Status Corrective</div>
<div class="a" style="left:826px;top:784.4px;width:160px;height:19px;background:#fff;border:1px solid #b9cff0;border-radius:2px"></div>
<div class="a" style="left:965px;top:785.4px;width:20px;height:17px;background:#d9e6f3"></div>
<svg style="left:971px;top:791.4px" width="9" height="5" viewBox="0 0 9 5"><path d="M0 0 H9 L4.5 5Z" fill="#111"/></svg>
<div class="t" style="left:832px;top:788.59px;font-size:11px;font-weight:normal;color:#222;letter-spacing:-0.15px">In working order</div>
<svg style="left:989px;top:786.1999999999999px" width="16" height="16" viewBox="0 0 16 16"><g transform="scale(1.0)"><circle cx="8" cy="8" r="7.4" fill="#2f78b4" stroke="#1b3f66" stroke-width="1.1"/><ellipse cx="8" cy="4.2" rx="1.9" ry="1.6" fill="#fff"/><rect x="6.5" y="6.6" width="3" height="6.8" fill="#fff"/></g></svg>
<div class="t" style="left:637px;top:810.20px;font-size:13px;font-weight:bold;color:#111;letter-spacing:0.1px">Status Preventive</div>
<div class="a" style="left:826px;top:809.6999999999999px;width:160px;height:19px;background:#fff;border:1px solid #b9cff0;border-radius:2px"></div>
<div class="a" style="left:965px;top:810.6999999999999px;width:20px;height:17px;background:#d9e6f3"></div>
<svg style="left:971px;top:816.6999999999999px" width="9" height="5" viewBox="0 0 9 5"><path d="M0 0 H9 L4.5 5Z" fill="#111"/></svg>
<div class="t" style="left:832px;top:813.89px;font-size:11px;font-weight:normal;color:#222;letter-spacing:-0.15px">Unusable</div>
<svg style="left:989px;top:811.4999999999999px" width="16" height="16" viewBox="0 0 16 16"><g transform="scale(1.0)"><circle cx="8" cy="8" r="7.4" fill="#2f78b4" stroke="#1b3f66" stroke-width="1.1"/><ellipse cx="8" cy="4.2" rx="1.9" ry="1.6" fill="#fff"/><rect x="6.5" y="6.6" width="3" height="6.8" fill="#fff"/></g></svg>
<div class="t" style="left:637px;top:835.50px;font-size:13px;font-weight:bold;color:#111;letter-spacing:0.1px">Workshop Status</div>
<div class="a" style="left:826px;top:835.0px;width:160px;height:19px;background:#fff;border:1px solid #b9cff0;border-radius:2px"></div>
<div class="a" style="left:965px;top:836.0px;width:20px;height:17px;background:#d9e6f3"></div>
<svg style="left:971px;top:842.0px" width="9" height="5" viewBox="0 0 9 5"><path d="M0 0 H9 L4.5 5Z" fill="#111"/></svg>
<div class="t" style="left:832px;top:839.19px;font-size:11px;font-weight:normal;color:#222;letter-spacing:-0.15px">ECM 4 - In Workshop</div>
<svg style="left:989px;top:836.8px" width="16" height="16" viewBox="0 0 16 16"><g transform="scale(1.0)"><circle cx="8" cy="8" r="7.4" fill="#2f78b4" stroke="#1b3f66" stroke-width="1.1"/><ellipse cx="8" cy="4.2" rx="1.9" ry="1.6" fill="#fff"/><rect x="6.5" y="6.6" width="3" height="6.8" fill="#fff"/></g></svg>
<div class="t" style="left:637px;top:860.80px;font-size:13px;font-weight:bold;color:#111;letter-spacing:0.1px">Status Operator</div>
<div class="a" style="left:826px;top:860.3px;width:160px;height:19px;background:#fff;border:1px solid #b9cff0;border-radius:2px"></div>
<div class="a" style="left:965px;top:861.3px;width:20px;height:17px;background:#d9e6f3"></div>
<svg style="left:971px;top:867.3px" width="9" height="5" viewBox="0 0 9 5"><path d="M0 0 H9 L4.5 5Z" fill="#111"/></svg>
<div class="t" style="left:832px;top:864.49px;font-size:11px;font-weight:normal;color:#222;letter-spacing:-0.15px">ECM 3 - Restricted release</div>
<svg style="left:989px;top:862.0999999999999px" width="16" height="16" viewBox="0 0 16 16"><g transform="scale(1.0)"><circle cx="8" cy="8" r="7.4" fill="#2f78b4" stroke="#1b3f66" stroke-width="1.1"/><ellipse cx="8" cy="4.2" rx="1.9" ry="1.6" fill="#fff"/><rect x="6.5" y="6.6" width="3" height="6.8" fill="#fff"/></g></svg>
</div>
<div class="a" style="left:1903px;top:100px;width:17px;height:772px;background:#f0f0f0"></div>
<div class="a" style="left:1903px;top:117px;width:17px;height:588px;background:#cbcbcb"></div>
<svg style="left:1907px;top:105px" width="9" height="6" viewBox="0 0 9 6"><path d="M0.5 5.5 L4.5 1 L8.5 5.5" fill="none" stroke="#505050" stroke-width="1.8"/></svg>
<svg style="left:1907px;top:866px" width="9" height="6" viewBox="0 0 9 6"><path d="M0.5 0.5 L4.5 5 L8.5 0.5" fill="none" stroke="#505050" stroke-width="1.8"/></svg>
<div class="a" style="left:0px;top:872px;width:1920px;height:55px;background:#fff"></div>
<div class="a" style="left:5px;top:882px;width:1910px;height:45px;background:#0275c0"></div>
<svg style="left:0px;top:870px" width="1920" height="57" viewBox="0 0 1920 57"><path d="M5.5 10 V51.5 H144 Q150.5 51.5 150.5 45 V19 Q150.5 13 157 13 H1915 V10Z" fill="#fcfcfc"/><path d="M5.5 12 V51.5 H144 Q150.5 51.5 150.5 45 V19 Q150.5 13 157 13 H1915" fill="none" stroke="#333" stroke-width="1.6"/></svg>
<svg style="left:13px;top:891px" width="24" height="24" viewBox="0 0 24 24"><rect x="0.75" y="0.75" width="22.5" height="22.5" fill="#fff" stroke="#111" stroke-width="1.5"/><rect x="1.5" y="1.5" width="21" height="4" fill="#8fb4ea"/><rect x="1.5" y="5.5" width="5" height="17" fill="#b8d0f4"/><g fill="#333"><rect x="2.5" y="8" width="2.5" height="1.5"/><rect x="2.5" y="13" width="2.5" height="1.5"/><rect x="2.5" y="18" width="2.5" height="1.5"/><rect x="8" y="8" width="13" height="1.6"/><rect x="8" y="13" width="13" height="1.6"/><rect x="8" y="18" width="13" height="1.6"/></g></svg>
<div class="t" style="left:42.5px;top:894.46px;font-size:16px;font-weight:normal;color:#444;">Status Display</div>
</div></body></html>
